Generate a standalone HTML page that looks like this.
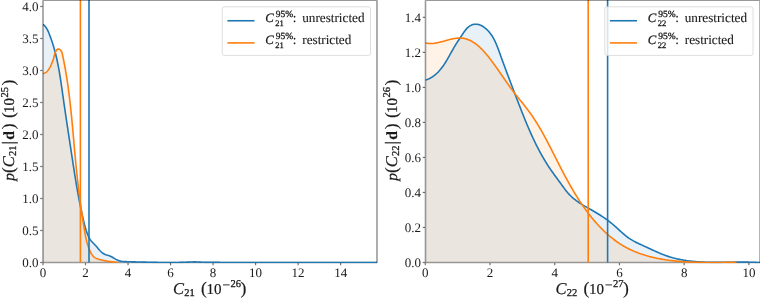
<!DOCTYPE html>
<html><head><meta charset="utf-8"><style>
html,body{margin:0;padding:0;background:#fff;width:760px;height:298px;overflow:hidden}
svg{display:block;text-rendering:geometricPrecision;will-change:transform;}
text{font-family:"Liberation Serif",serif;fill:#1a1a1a;stroke:#1a1a1a;stroke-width:0.0px}
</style></head><body>
<svg width="760" height="298" viewBox="0 0 760 298">
<path d="M42.65,262.5 H377.35" stroke="#000" stroke-opacity="0.4" stroke-width="1.6" fill="none"/>
<clipPath id="clipL"><rect x="43.0" y="0" width="334.0" height="263.3"/></clipPath>
<g clip-path="url(#clipL)">
<path d="M43.02,24.27 L43.81,24.97 L44.55,25.71 L45.23,26.49 L45.85,27.31 L46.43,28.15 L46.96,29.03 L47.46,29.93 L47.92,30.85 L48.36,31.79 L48.77,32.74 L49.16,33.70 L49.53,34.68 L49.89,35.66 L50.25,36.64 L50.61,37.62 L50.96,38.60 L51.30,39.58 L51.64,40.56 L51.98,41.55 L52.31,42.53 L52.63,43.52 L52.95,44.51 L53.26,45.50 L53.56,46.49 L53.85,47.48 L54.14,48.48 L54.43,49.47 L54.70,50.47 L54.97,51.47 L55.24,52.47 L55.49,53.47 L55.75,54.48 L55.99,55.48 L56.23,56.49 L56.47,57.50 L56.70,58.51 L56.93,59.52 L57.15,60.53 L57.36,61.54 L57.57,62.55 L57.78,63.57 L57.98,64.58 L58.18,65.60 L58.38,66.62 L58.57,67.64 L58.76,68.65 L58.94,69.67 L59.12,70.70 L59.30,71.72 L59.47,72.74 L59.64,73.76 L59.81,74.79 L59.98,75.81 L60.14,76.83 L60.30,77.86 L60.46,78.89 L60.62,79.91 L60.77,80.94 L60.93,81.97 L61.08,82.99 L61.23,84.02 L61.38,85.05 L61.53,86.08 L61.68,87.10 L61.82,88.13 L61.97,89.16 L62.12,90.19 L62.26,91.22 L62.41,92.25 L62.55,93.27 L62.70,94.30 L62.84,95.33 L62.99,96.36 L63.13,97.39 L63.28,98.42 L63.43,99.44 L63.58,100.47 L63.72,101.50 L63.87,102.52 L64.02,103.55 L64.17,104.58 L64.32,105.61 L64.47,106.63 L64.62,107.66 L64.77,108.69 L64.92,109.71 L65.07,110.74 L65.22,111.76 L65.37,112.79 L65.52,113.82 L65.67,114.84 L65.83,115.87 L65.98,116.89 L66.13,117.92 L66.28,118.95 L66.44,119.97 L66.59,121.00 L66.74,122.02 L66.90,123.05 L67.05,124.07 L67.20,125.10 L67.36,126.12 L67.51,127.15 L67.67,128.17 L67.82,129.20 L67.98,130.22 L68.13,131.25 L68.29,132.27 L68.44,133.30 L68.60,134.32 L68.75,135.35 L68.91,136.37 L69.06,137.40 L69.22,138.42 L69.37,139.45 L69.53,140.47 L69.68,141.49 L69.84,142.52 L70.00,143.54 L70.15,144.57 L70.31,145.59 L70.46,146.62 L70.62,147.64 L70.77,148.67 L70.93,149.69 L71.09,150.72 L71.24,151.74 L71.40,152.77 L71.55,153.79 L71.71,154.82 L71.86,155.84 L72.02,156.87 L72.18,157.89 L72.33,158.92 L72.49,159.94 L72.64,160.97 L72.80,161.99 L72.96,163.02 L73.11,164.04 L73.27,165.07 L73.43,166.09 L73.59,167.12 L73.74,168.14 L73.90,169.17 L74.06,170.19 L74.22,171.22 L74.38,172.24 L74.54,173.27 L74.71,174.29 L74.87,175.32 L75.03,176.34 L75.20,177.37 L75.36,178.39 L75.53,179.41 L75.70,180.44 L75.87,181.46 L76.04,182.49 L76.21,183.51 L76.38,184.53 L76.55,185.56 L76.73,186.58 L76.90,187.60 L77.08,188.62 L77.26,189.65 L77.44,190.67 L77.62,191.69 L77.80,192.71 L77.98,193.73 L78.17,194.75 L78.36,195.77 L78.55,196.79 L78.74,197.81 L78.93,198.83 L79.12,199.85 L79.32,200.87 L79.52,201.89 L79.72,202.91 L79.92,203.93 L80.12,204.95 L80.33,205.96 L80.54,206.98 L80.75,207.99 L80.96,209.01 L81.17,210.02 L81.39,211.04 L81.61,212.05 L81.83,213.07 L82.05,214.08 L82.28,215.09 L82.51,216.10 L82.74,217.11 L82.97,218.12 L83.20,219.13 L83.44,220.14 L83.68,221.14 L83.93,222.15 L84.17,223.16 L84.42,224.16 L84.68,225.16 L84.94,226.16 L85.21,227.16 L85.49,228.16 L85.78,229.15 L86.08,230.14 L86.40,231.13 L86.73,232.12 L87.08,233.10 L87.45,234.07 L87.84,235.05 L88.24,236.01 L88.68,236.97 L89.15,237.90 L89.67,238.79 L90.25,239.64 L90.86,240.46 L91.51,241.25 L92.20,242.01 L92.90,242.77 L93.62,243.51 L94.34,244.26 L95.06,245.00 L95.78,245.76 L96.49,246.53 L97.17,247.33 L97.84,248.14 L98.51,248.95 L99.18,249.75 L99.87,250.53 L100.57,251.28 L101.31,252.00 L102.10,252.66 L102.93,253.26 L103.80,253.80 L104.72,254.27 L105.67,254.67 L106.65,255.00 L107.65,255.29 L108.64,255.59 L109.62,255.93 L110.56,256.34 L111.48,256.79 L112.39,257.28 L113.29,257.80 L114.19,258.32 L115.09,258.85 L116.00,259.37 L116.92,259.85 L117.87,260.27 L118.83,260.63 L119.81,260.92 L120.81,261.15 L121.83,261.32 L122.85,261.45 L123.89,261.54 L124.93,261.61 L125.98,261.65 L127.02,261.69 L128.07,261.72 L129.11,261.75 L130.15,261.77 L131.19,261.80 L132.23,261.83 L133.27,261.85 L134.31,261.88 L135.34,261.91 L136.38,261.93 L137.41,261.96 L138.44,261.98 L139.48,262.01 L140.51,262.03 L141.55,262.06 L142.58,262.08 L143.62,262.11 L144.65,262.13 L145.69,262.16 L146.72,262.18 L147.76,262.21 L148.80,262.23 L149.83,262.26 L150.87,262.28 L151.91,262.30 L152.94,262.33 L153.98,262.35 L155.02,262.37 L156.06,262.39 L157.09,262.41 L158.13,262.43 L159.17,262.44 L160.21,262.46 L161.25,262.47 L162.28,262.49 L163.32,262.50 L164.36,262.51 L165.40,262.52 L166.44,262.52 L167.48,262.53 L168.51,262.53 L169.55,262.53 L170.59,262.53 L171.63,262.53 L172.67,262.52 L173.70,262.51 L174.74,262.50 L175.78,262.49 L176.82,262.48 L177.86,262.46 L178.89,262.44 L179.93,262.42 L180.97,262.39 L182.00,262.36 L183.04,262.33 L184.08,262.30 L185.11,262.26 L186.15,262.22 L187.18,262.17 L188.22,262.13 L189.25,262.08 L190.29,262.02 L191.32,261.97 L192.36,261.93 L193.39,261.90 L194.43,261.89 L195.46,261.90 L196.50,261.94 L197.53,261.99 L198.57,262.05 L199.60,262.11 L200.64,262.17 L201.68,262.23 L202.71,262.27 L203.75,262.30 L204.79,262.33 L205.82,262.35 L206.86,262.36 L207.90,262.37 L208.93,262.38 L209.97,262.38 L211.01,262.39 L212.05,262.39 L213.08,262.40 L214.12,262.40 L215.16,262.41 L216.19,262.41 L217.23,262.42 L218.27,262.42 L219.31,262.42 L220.34,262.43 L221.38,262.43 L222.42,262.44 L223.46,262.44 L224.49,262.44 L225.53,262.45 L226.57,262.45 L227.60,262.45 L228.64,262.46 L229.68,262.46 L230.72,262.46 L231.75,262.46 L232.79,262.47 L233.83,262.47 L234.86,262.47 L235.90,262.47 L236.94,262.48 L237.98,262.48 L239.01,262.48 L240.05,262.48 L241.09,262.49 L242.12,262.49 L243.16,262.49 L244.20,262.49 L245.24,262.49 L246.27,262.49 L247.31,262.50 L248.35,262.50 L249.39,262.50 L250.42,262.50 L251.46,262.50 L252.50,262.50 L253.53,262.50 L254.57,262.50 L255.61,262.50 L256.65,262.51 L257.68,262.51 L258.72,262.51 L259.76,262.51 L260.79,262.51 L261.83,262.51 L262.87,262.51 L263.91,262.51 L264.94,262.51 L265.98,262.51 L267.02,262.51 L268.06,262.51 L269.09,262.51 L270.13,262.51 L271.17,262.51 L272.20,262.51 L273.24,262.51 L274.28,262.51 L275.32,262.51 L276.35,262.51 L277.39,262.51 L278.43,262.51 L279.46,262.51 L280.50,262.51 L281.54,262.51 L282.58,262.51 L283.61,262.51 L284.65,262.51 L285.69,262.51 L286.73,262.51 L287.76,262.50 L288.80,262.50 L289.84,262.50 L290.87,262.50 L291.91,262.50 L292.95,262.50 L293.99,262.50 L295.02,262.50 L296.06,262.50 L297.10,262.50 L298.13,262.50 L299.17,262.50 L300.21,262.50 L301.25,262.50 L302.28,262.49 L303.32,262.49 L304.36,262.49 L305.39,262.49 L306.43,262.49 L307.47,262.49 L308.51,262.49 L309.54,262.49 L310.58,262.49 L311.62,262.49 L312.66,262.49 L313.69,262.49 L314.73,262.48 L315.77,262.48 L316.80,262.48 L317.84,262.48 L318.88,262.48 L319.92,262.48 L320.95,262.48 L321.99,262.48 L323.03,262.48 L324.06,262.48 L325.10,262.48 L326.14,262.48 L327.18,262.48 L328.21,262.48 L329.25,262.47 L330.29,262.47 L331.33,262.47 L332.36,262.47 L333.40,262.47 L334.44,262.47 L335.47,262.47 L336.51,262.47 L337.55,262.47 L338.59,262.47 L339.62,262.47 L340.66,262.47 L341.70,262.47 L342.73,262.47 L343.77,262.47 L344.81,262.47 L345.85,262.47 L346.88,262.47 L347.92,262.47 L348.96,262.47 L350.00,262.47 L351.03,262.47 L352.07,262.47 L353.11,262.47 L354.14,262.47 L355.18,262.47 L356.22,262.47 L357.26,262.47 L358.29,262.47 L359.33,262.47 L360.37,262.48 L361.40,262.48 L362.44,262.48 L363.48,262.48 L364.52,262.48 L365.55,262.48 L366.59,262.48 L367.63,262.48 L368.67,262.48 L369.70,262.49 L370.74,262.49 L371.78,262.49 L372.81,262.49 L373.85,262.49 L374.89,262.49 L375.93,262.50 L376.96,262.50 L378.00,262.50 L378.00,262.50 L43.02,262.50 Z" fill="#1f77b4" fill-opacity="0.1"/>
<path d="M43.00,73.62 L43.56,73.48 L44.09,73.31 L44.60,73.11 L45.08,72.88 L45.55,72.62 L45.99,72.33 L46.40,72.01 L46.80,71.67 L47.18,71.31 L47.54,70.92 L47.89,70.52 L48.22,70.10 L48.53,69.66 L48.83,69.21 L49.12,68.75 L49.40,68.28 L49.67,67.80 L49.92,67.31 L50.17,66.82 L50.41,66.32 L50.65,65.82 L50.88,65.32 L51.10,64.83 L51.33,64.33 L51.54,63.84 L51.76,63.35 L51.97,62.86 L52.17,62.37 L52.37,61.89 L52.56,61.40 L52.75,60.91 L52.93,60.41 L53.10,59.91 L53.26,59.41 L53.41,58.91 L53.56,58.40 L53.70,57.88 L53.83,57.36 L53.97,56.83 L54.11,56.30 L54.25,55.76 L54.39,55.22 L54.54,54.67 L54.71,54.12 L54.89,53.56 L55.08,52.99 L55.29,52.43 L55.51,51.86 L55.76,51.32 L56.03,50.80 L56.33,50.33 L56.65,49.91 L56.99,49.56 L57.36,49.29 L57.76,49.11 L58.19,49.04 L58.65,49.08 L59.11,49.22 L59.55,49.43 L59.95,49.68 L60.31,49.97 L60.64,50.29 L60.93,50.65 L61.19,51.04 L61.43,51.46 L61.64,51.91 L61.82,52.37 L61.99,52.86 L62.15,53.36 L62.29,53.88 L62.42,54.40 L62.54,54.94 L62.66,55.47 L62.77,56.01 L62.88,56.55 L63.00,57.09 L63.11,57.63 L63.22,58.17 L63.33,58.71 L63.44,59.25 L63.55,59.78 L63.66,60.32 L63.76,60.86 L63.87,61.40 L63.97,61.94 L64.08,62.48 L64.18,63.01 L64.29,63.55 L64.39,64.09 L64.49,64.63 L64.59,65.17 L64.69,65.70 L64.79,66.24 L64.89,66.78 L64.99,67.32 L65.08,67.85 L65.18,68.39 L65.28,68.93 L65.37,69.47 L65.46,70.00 L65.56,70.54 L65.65,71.08 L65.74,71.62 L65.84,72.15 L65.93,72.69 L66.02,73.23 L66.11,73.76 L66.19,74.30 L66.28,74.84 L66.37,75.37 L66.46,75.91 L66.54,76.45 L66.63,76.98 L66.71,77.52 L66.80,78.06 L66.88,78.59 L66.96,79.13 L67.05,79.67 L67.13,80.20 L67.21,80.74 L67.29,81.27 L67.37,81.81 L67.45,82.35 L67.53,82.88 L67.61,83.42 L67.68,83.96 L67.76,84.49 L67.84,85.03 L67.91,85.56 L67.99,86.10 L68.06,86.63 L68.14,87.17 L68.21,87.71 L68.29,88.24 L68.36,88.78 L68.43,89.31 L68.50,89.85 L68.57,90.38 L68.64,90.92 L68.71,91.45 L68.78,91.99 L68.85,92.53 L68.92,93.06 L68.99,93.60 L69.06,94.13 L69.13,94.67 L69.19,95.20 L69.26,95.74 L69.33,96.27 L69.39,96.81 L69.46,97.34 L69.52,97.88 L69.58,98.41 L69.65,98.95 L69.71,99.48 L69.78,100.02 L69.84,100.55 L69.90,101.09 L69.96,101.62 L70.02,102.16 L70.08,102.69 L70.14,103.23 L70.20,103.76 L70.26,104.30 L70.32,104.83 L70.38,105.36 L70.44,105.90 L70.50,106.43 L70.56,106.97 L70.62,107.50 L70.67,108.04 L70.73,108.57 L70.79,109.11 L70.84,109.64 L70.90,110.18 L70.96,110.71 L71.01,111.24 L71.07,111.78 L71.12,112.31 L71.18,112.85 L71.23,113.38 L71.29,113.92 L71.34,114.45 L71.39,114.98 L71.45,115.52 L71.50,116.05 L71.55,116.59 L71.60,117.12 L71.66,117.66 L71.71,118.19 L71.76,118.72 L71.81,119.26 L71.86,119.79 L71.92,120.33 L71.97,120.86 L72.02,121.40 L72.07,121.93 L72.12,122.46 L72.17,123.00 L72.22,123.53 L72.27,124.07 L72.32,124.60 L72.37,125.13 L72.42,125.67 L72.47,126.20 L72.52,126.74 L72.56,127.27 L72.61,127.80 L72.66,128.34 L72.71,128.87 L72.76,129.41 L72.81,129.94 L72.85,130.48 L72.90,131.01 L72.95,131.54 L73.00,132.08 L73.05,132.61 L73.09,133.15 L73.14,133.68 L73.19,134.21 L73.24,134.75 L73.28,135.28 L73.33,135.82 L73.38,136.35 L73.43,136.88 L73.47,137.42 L73.52,137.95 L73.57,138.49 L73.62,139.02 L73.66,139.56 L73.71,140.09 L73.76,140.62 L73.80,141.16 L73.85,141.69 L73.90,142.23 L73.94,142.76 L73.99,143.29 L74.04,143.83 L74.09,144.36 L74.13,144.90 L74.18,145.43 L74.23,145.97 L74.28,146.50 L74.32,147.04 L74.37,147.57 L74.42,148.10 L74.47,148.64 L74.51,149.17 L74.56,149.71 L74.61,150.24 L74.66,150.78 L74.70,151.31 L74.75,151.85 L74.80,152.38 L74.85,152.91 L74.90,153.45 L74.95,153.98 L74.99,154.52 L75.04,155.05 L75.09,155.59 L75.14,156.12 L75.19,156.66 L75.24,157.19 L75.29,157.73 L75.34,158.26 L75.39,158.80 L75.44,159.33 L75.49,159.87 L75.54,160.40 L75.59,160.94 L75.64,161.47 L75.69,162.01 L75.74,162.54 L75.79,163.08 L75.85,163.61 L75.90,164.15 L75.95,164.68 L76.00,165.22 L76.05,165.75 L76.11,166.29 L76.16,166.82 L76.21,167.36 L76.27,167.89 L76.32,168.43 L76.38,168.96 L76.43,169.50 L76.48,170.04 L76.54,170.57 L76.59,171.11 L76.65,171.64 L76.71,172.18 L76.76,172.71 L76.82,173.25 L76.87,173.79 L76.93,174.32 L76.99,174.86 L77.05,175.39 L77.10,175.93 L77.16,176.46 L77.22,177.00 L77.28,177.54 L77.34,178.07 L77.40,178.61 L77.46,179.14 L77.52,179.68 L77.58,180.22 L77.64,180.75 L77.70,181.29 L77.76,181.82 L77.82,182.36 L77.88,182.90 L77.94,183.43 L78.00,183.97 L78.07,184.50 L78.13,185.04 L78.19,185.58 L78.26,186.11 L78.32,186.65 L78.38,187.18 L78.45,187.72 L78.51,188.26 L78.58,188.79 L78.64,189.33 L78.71,189.86 L78.77,190.40 L78.84,190.94 L78.90,191.47 L78.97,192.01 L79.04,192.54 L79.10,193.08 L79.17,193.61 L79.24,194.15 L79.31,194.69 L79.37,195.22 L79.44,195.76 L79.51,196.29 L79.58,196.83 L79.65,197.36 L79.72,197.90 L79.79,198.43 L79.86,198.97 L79.93,199.51 L80.00,200.04 L80.07,200.58 L80.14,201.11 L80.21,201.65 L80.29,202.18 L80.36,202.72 L80.43,203.25 L80.50,203.79 L80.58,204.32 L80.65,204.86 L80.72,205.39 L80.80,205.92 L80.87,206.46 L80.95,206.99 L81.02,207.53 L81.10,208.06 L81.17,208.60 L81.25,209.13 L81.32,209.66 L81.40,210.20 L81.47,210.73 L81.55,211.27 L81.63,211.80 L81.71,212.33 L81.78,212.87 L81.86,213.40 L81.94,213.93 L82.02,214.47 L82.10,215.00 L82.18,215.53 L82.26,216.07 L82.33,216.60 L82.41,217.13 L82.50,217.67 L82.58,218.20 L82.66,218.73 L82.74,219.26 L82.82,219.80 L82.90,220.33 L82.98,220.86 L83.07,221.39 L83.15,221.92 L83.23,222.46 L83.31,222.99 L83.40,223.52 L83.48,224.05 L83.57,224.58 L83.65,225.11 L83.73,225.64 L83.82,226.17 L83.90,226.70 L83.99,227.24 L84.08,227.77 L84.16,228.30 L84.25,228.83 L84.33,229.36 L84.42,229.89 L84.51,230.42 L84.60,230.95 L84.69,231.47 L84.78,232.00 L84.87,232.53 L84.96,233.06 L85.05,233.59 L85.15,234.12 L85.25,234.64 L85.34,235.17 L85.45,235.70 L85.55,236.22 L85.65,236.75 L85.76,237.27 L85.87,237.79 L85.98,238.32 L86.10,238.84 L86.22,239.36 L86.34,239.88 L86.46,240.40 L86.59,240.92 L86.72,241.44 L86.86,241.96 L87.00,242.47 L87.14,242.99 L87.29,243.50 L87.44,244.02 L87.59,244.53 L87.75,245.04 L87.92,245.55 L88.09,246.06 L88.26,246.57 L88.44,247.07 L88.63,247.58 L88.82,248.08 L89.01,248.58 L89.21,249.09 L89.42,249.59 L89.63,250.08 L89.85,250.58 L90.08,251.08 L90.31,251.57 L90.55,252.06 L90.79,252.55 L91.05,253.04 L91.31,253.52 L91.58,253.99 L91.87,254.45 L92.17,254.90 L92.48,255.33 L92.81,255.75 L93.15,256.15 L93.52,256.53 L93.90,256.90 L94.30,257.23 L94.72,257.55 L95.16,257.84 L95.62,258.10 L96.10,258.33 L96.60,258.55 L97.11,258.75 L97.64,258.93 L98.16,259.09 L98.70,259.25 L99.23,259.39 L99.76,259.54 L100.29,259.67 L100.82,259.81 L101.35,259.94 L101.87,260.06 L102.39,260.18 L102.91,260.30 L103.43,260.42 L103.95,260.53 L104.47,260.63 L104.99,260.74 L105.52,260.84 L106.04,260.93 L106.56,261.03 L107.08,261.12 L107.61,261.20 L108.14,261.29 L108.67,261.37 L109.21,261.45 L109.74,261.52 L110.28,261.59 L110.82,261.66 L111.36,261.73 L111.90,261.79 L112.44,261.85 L112.98,261.91 L113.52,261.96 L114.06,262.01 L114.60,262.06 L115.14,262.11 L115.67,262.15 L116.21,262.19 L116.74,262.23 L117.27,262.27 L117.80,262.30 L117.80,262.50 L43.00,262.50 Z" fill="#ff7f0e" fill-opacity="0.1"/>
<path d="M43.02,24.27 L43.81,24.97 L44.55,25.71 L45.23,26.49 L45.85,27.31 L46.43,28.15 L46.96,29.03 L47.46,29.93 L47.92,30.85 L48.36,31.79 L48.77,32.74 L49.16,33.70 L49.53,34.68 L49.89,35.66 L50.25,36.64 L50.61,37.62 L50.96,38.60 L51.30,39.58 L51.64,40.56 L51.98,41.55 L52.31,42.53 L52.63,43.52 L52.95,44.51 L53.26,45.50 L53.56,46.49 L53.85,47.48 L54.14,48.48 L54.43,49.47 L54.70,50.47 L54.97,51.47 L55.24,52.47 L55.49,53.47 L55.75,54.48 L55.99,55.48 L56.23,56.49 L56.47,57.50 L56.70,58.51 L56.93,59.52 L57.15,60.53 L57.36,61.54 L57.57,62.55 L57.78,63.57 L57.98,64.58 L58.18,65.60 L58.38,66.62 L58.57,67.64 L58.76,68.65 L58.94,69.67 L59.12,70.70 L59.30,71.72 L59.47,72.74 L59.64,73.76 L59.81,74.79 L59.98,75.81 L60.14,76.83 L60.30,77.86 L60.46,78.89 L60.62,79.91 L60.77,80.94 L60.93,81.97 L61.08,82.99 L61.23,84.02 L61.38,85.05 L61.53,86.08 L61.68,87.10 L61.82,88.13 L61.97,89.16 L62.12,90.19 L62.26,91.22 L62.41,92.25 L62.55,93.27 L62.70,94.30 L62.84,95.33 L62.99,96.36 L63.13,97.39 L63.28,98.42 L63.43,99.44 L63.58,100.47 L63.72,101.50 L63.87,102.52 L64.02,103.55 L64.17,104.58 L64.32,105.61 L64.47,106.63 L64.62,107.66 L64.77,108.69 L64.92,109.71 L65.07,110.74 L65.22,111.76 L65.37,112.79 L65.52,113.82 L65.67,114.84 L65.83,115.87 L65.98,116.89 L66.13,117.92 L66.28,118.95 L66.44,119.97 L66.59,121.00 L66.74,122.02 L66.90,123.05 L67.05,124.07 L67.20,125.10 L67.36,126.12 L67.51,127.15 L67.67,128.17 L67.82,129.20 L67.98,130.22 L68.13,131.25 L68.29,132.27 L68.44,133.30 L68.60,134.32 L68.75,135.35 L68.91,136.37 L69.06,137.40 L69.22,138.42 L69.37,139.45 L69.53,140.47 L69.68,141.49 L69.84,142.52 L70.00,143.54 L70.15,144.57 L70.31,145.59 L70.46,146.62 L70.62,147.64 L70.77,148.67 L70.93,149.69 L71.09,150.72 L71.24,151.74 L71.40,152.77 L71.55,153.79 L71.71,154.82 L71.86,155.84 L72.02,156.87 L72.18,157.89 L72.33,158.92 L72.49,159.94 L72.64,160.97 L72.80,161.99 L72.96,163.02 L73.11,164.04 L73.27,165.07 L73.43,166.09 L73.59,167.12 L73.74,168.14 L73.90,169.17 L74.06,170.19 L74.22,171.22 L74.38,172.24 L74.54,173.27 L74.71,174.29 L74.87,175.32 L75.03,176.34 L75.20,177.37 L75.36,178.39 L75.53,179.41 L75.70,180.44 L75.87,181.46 L76.04,182.49 L76.21,183.51 L76.38,184.53 L76.55,185.56 L76.73,186.58 L76.90,187.60 L77.08,188.62 L77.26,189.65 L77.44,190.67 L77.62,191.69 L77.80,192.71 L77.98,193.73 L78.17,194.75 L78.36,195.77 L78.55,196.79 L78.74,197.81 L78.93,198.83 L79.12,199.85 L79.32,200.87 L79.52,201.89 L79.72,202.91 L79.92,203.93 L80.12,204.95 L80.33,205.96 L80.54,206.98 L80.75,207.99 L80.96,209.01 L81.17,210.02 L81.39,211.04 L81.61,212.05 L81.83,213.07 L82.05,214.08 L82.28,215.09 L82.51,216.10 L82.74,217.11 L82.97,218.12 L83.20,219.13 L83.44,220.14 L83.68,221.14 L83.93,222.15 L84.17,223.16 L84.42,224.16 L84.68,225.16 L84.94,226.16 L85.21,227.16 L85.49,228.16 L85.78,229.15 L86.08,230.14 L86.40,231.13 L86.73,232.12 L87.08,233.10 L87.45,234.07 L87.84,235.05 L88.24,236.01 L88.68,236.97 L89.15,237.90 L89.67,238.79 L90.25,239.64 L90.86,240.46 L91.51,241.25 L92.20,242.01 L92.90,242.77 L93.62,243.51 L94.34,244.26 L95.06,245.00 L95.78,245.76 L96.49,246.53 L97.17,247.33 L97.84,248.14 L98.51,248.95 L99.18,249.75 L99.87,250.53 L100.57,251.28 L101.31,252.00 L102.10,252.66 L102.93,253.26 L103.80,253.80 L104.72,254.27 L105.67,254.67 L106.65,255.00 L107.65,255.29 L108.64,255.59 L109.62,255.93 L110.56,256.34 L111.48,256.79 L112.39,257.28 L113.29,257.80 L114.19,258.32 L115.09,258.85 L116.00,259.37 L116.92,259.85 L117.87,260.27 L118.83,260.63 L119.81,260.92 L120.81,261.15 L121.83,261.32 L122.85,261.45 L123.89,261.54 L124.93,261.61 L125.98,261.65 L127.02,261.69 L128.07,261.72 L129.11,261.75 L130.15,261.77 L131.19,261.80 L132.23,261.83 L133.27,261.85 L134.31,261.88 L135.34,261.91 L136.38,261.93 L137.41,261.96 L138.44,261.98 L139.48,262.01 L140.51,262.03 L141.55,262.06 L142.58,262.08 L143.62,262.11 L144.65,262.13 L145.69,262.16 L146.72,262.18 L147.76,262.21 L148.80,262.23 L149.83,262.26 L150.87,262.28 L151.91,262.30 L152.94,262.33 L153.98,262.35 L155.02,262.37 L156.06,262.39 L157.09,262.41 L158.13,262.43 L159.17,262.44 L160.21,262.46 L161.25,262.47 L162.28,262.49 L163.32,262.50 L164.36,262.51 L165.40,262.52 L166.44,262.52 L167.48,262.53 L168.51,262.53 L169.55,262.53 L170.59,262.53 L171.63,262.53 L172.67,262.52 L173.70,262.51 L174.74,262.50 L175.78,262.49 L176.82,262.48 L177.86,262.46 L178.89,262.44 L179.93,262.42 L180.97,262.39 L182.00,262.36 L183.04,262.33 L184.08,262.30 L185.11,262.26 L186.15,262.22 L187.18,262.17 L188.22,262.13 L189.25,262.08 L190.29,262.02 L191.32,261.97 L192.36,261.93 L193.39,261.90 L194.43,261.89 L195.46,261.90 L196.50,261.94 L197.53,261.99 L198.57,262.05 L199.60,262.11 L200.64,262.17 L201.68,262.23 L202.71,262.27 L203.75,262.30 L204.79,262.33 L205.82,262.35 L206.86,262.36 L207.90,262.37 L208.93,262.38 L209.97,262.38 L211.01,262.39 L212.05,262.39 L213.08,262.40 L214.12,262.40 L215.16,262.41 L216.19,262.41 L217.23,262.42 L218.27,262.42 L219.31,262.42 L220.34,262.43 L221.38,262.43 L222.42,262.44 L223.46,262.44 L224.49,262.44 L225.53,262.45 L226.57,262.45 L227.60,262.45 L228.64,262.46 L229.68,262.46 L230.72,262.46 L231.75,262.46 L232.79,262.47 L233.83,262.47 L234.86,262.47 L235.90,262.47 L236.94,262.48 L237.98,262.48 L239.01,262.48 L240.05,262.48 L241.09,262.49 L242.12,262.49 L243.16,262.49 L244.20,262.49 L245.24,262.49 L246.27,262.49 L247.31,262.50 L248.35,262.50 L249.39,262.50 L250.42,262.50 L251.46,262.50 L252.50,262.50 L253.53,262.50 L254.57,262.50 L255.61,262.50 L256.65,262.51 L257.68,262.51 L258.72,262.51 L259.76,262.51 L260.79,262.51 L261.83,262.51 L262.87,262.51 L263.91,262.51 L264.94,262.51 L265.98,262.51 L267.02,262.51 L268.06,262.51 L269.09,262.51 L270.13,262.51 L271.17,262.51 L272.20,262.51 L273.24,262.51 L274.28,262.51 L275.32,262.51 L276.35,262.51 L277.39,262.51 L278.43,262.51 L279.46,262.51 L280.50,262.51 L281.54,262.51 L282.58,262.51 L283.61,262.51 L284.65,262.51 L285.69,262.51 L286.73,262.51 L287.76,262.50 L288.80,262.50 L289.84,262.50 L290.87,262.50 L291.91,262.50 L292.95,262.50 L293.99,262.50 L295.02,262.50 L296.06,262.50 L297.10,262.50 L298.13,262.50 L299.17,262.50 L300.21,262.50 L301.25,262.50 L302.28,262.49 L303.32,262.49 L304.36,262.49 L305.39,262.49 L306.43,262.49 L307.47,262.49 L308.51,262.49 L309.54,262.49 L310.58,262.49 L311.62,262.49 L312.66,262.49 L313.69,262.49 L314.73,262.48 L315.77,262.48 L316.80,262.48 L317.84,262.48 L318.88,262.48 L319.92,262.48 L320.95,262.48 L321.99,262.48 L323.03,262.48 L324.06,262.48 L325.10,262.48 L326.14,262.48 L327.18,262.48 L328.21,262.48 L329.25,262.47 L330.29,262.47 L331.33,262.47 L332.36,262.47 L333.40,262.47 L334.44,262.47 L335.47,262.47 L336.51,262.47 L337.55,262.47 L338.59,262.47 L339.62,262.47 L340.66,262.47 L341.70,262.47 L342.73,262.47 L343.77,262.47 L344.81,262.47 L345.85,262.47 L346.88,262.47 L347.92,262.47 L348.96,262.47 L350.00,262.47 L351.03,262.47 L352.07,262.47 L353.11,262.47 L354.14,262.47 L355.18,262.47 L356.22,262.47 L357.26,262.47 L358.29,262.47 L359.33,262.47 L360.37,262.48 L361.40,262.48 L362.44,262.48 L363.48,262.48 L364.52,262.48 L365.55,262.48 L366.59,262.48 L367.63,262.48 L368.67,262.48 L369.70,262.49 L370.74,262.49 L371.78,262.49 L372.81,262.49 L373.85,262.49 L374.89,262.49 L375.93,262.50 L376.96,262.50 L378.00,262.50" fill="none" stroke="#1f77b4" stroke-width="1.6" stroke-linejoin="round"/>
<path d="M43.00,73.62 L43.56,73.48 L44.09,73.31 L44.60,73.11 L45.08,72.88 L45.55,72.62 L45.99,72.33 L46.40,72.01 L46.80,71.67 L47.18,71.31 L47.54,70.92 L47.89,70.52 L48.22,70.10 L48.53,69.66 L48.83,69.21 L49.12,68.75 L49.40,68.28 L49.67,67.80 L49.92,67.31 L50.17,66.82 L50.41,66.32 L50.65,65.82 L50.88,65.32 L51.10,64.83 L51.33,64.33 L51.54,63.84 L51.76,63.35 L51.97,62.86 L52.17,62.37 L52.37,61.89 L52.56,61.40 L52.75,60.91 L52.93,60.41 L53.10,59.91 L53.26,59.41 L53.41,58.91 L53.56,58.40 L53.70,57.88 L53.83,57.36 L53.97,56.83 L54.11,56.30 L54.25,55.76 L54.39,55.22 L54.54,54.67 L54.71,54.12 L54.89,53.56 L55.08,52.99 L55.29,52.43 L55.51,51.86 L55.76,51.32 L56.03,50.80 L56.33,50.33 L56.65,49.91 L56.99,49.56 L57.36,49.29 L57.76,49.11 L58.19,49.04 L58.65,49.08 L59.11,49.22 L59.55,49.43 L59.95,49.68 L60.31,49.97 L60.64,50.29 L60.93,50.65 L61.19,51.04 L61.43,51.46 L61.64,51.91 L61.82,52.37 L61.99,52.86 L62.15,53.36 L62.29,53.88 L62.42,54.40 L62.54,54.94 L62.66,55.47 L62.77,56.01 L62.88,56.55 L63.00,57.09 L63.11,57.63 L63.22,58.17 L63.33,58.71 L63.44,59.25 L63.55,59.78 L63.66,60.32 L63.76,60.86 L63.87,61.40 L63.97,61.94 L64.08,62.48 L64.18,63.01 L64.29,63.55 L64.39,64.09 L64.49,64.63 L64.59,65.17 L64.69,65.70 L64.79,66.24 L64.89,66.78 L64.99,67.32 L65.08,67.85 L65.18,68.39 L65.28,68.93 L65.37,69.47 L65.46,70.00 L65.56,70.54 L65.65,71.08 L65.74,71.62 L65.84,72.15 L65.93,72.69 L66.02,73.23 L66.11,73.76 L66.19,74.30 L66.28,74.84 L66.37,75.37 L66.46,75.91 L66.54,76.45 L66.63,76.98 L66.71,77.52 L66.80,78.06 L66.88,78.59 L66.96,79.13 L67.05,79.67 L67.13,80.20 L67.21,80.74 L67.29,81.27 L67.37,81.81 L67.45,82.35 L67.53,82.88 L67.61,83.42 L67.68,83.96 L67.76,84.49 L67.84,85.03 L67.91,85.56 L67.99,86.10 L68.06,86.63 L68.14,87.17 L68.21,87.71 L68.29,88.24 L68.36,88.78 L68.43,89.31 L68.50,89.85 L68.57,90.38 L68.64,90.92 L68.71,91.45 L68.78,91.99 L68.85,92.53 L68.92,93.06 L68.99,93.60 L69.06,94.13 L69.13,94.67 L69.19,95.20 L69.26,95.74 L69.33,96.27 L69.39,96.81 L69.46,97.34 L69.52,97.88 L69.58,98.41 L69.65,98.95 L69.71,99.48 L69.78,100.02 L69.84,100.55 L69.90,101.09 L69.96,101.62 L70.02,102.16 L70.08,102.69 L70.14,103.23 L70.20,103.76 L70.26,104.30 L70.32,104.83 L70.38,105.36 L70.44,105.90 L70.50,106.43 L70.56,106.97 L70.62,107.50 L70.67,108.04 L70.73,108.57 L70.79,109.11 L70.84,109.64 L70.90,110.18 L70.96,110.71 L71.01,111.24 L71.07,111.78 L71.12,112.31 L71.18,112.85 L71.23,113.38 L71.29,113.92 L71.34,114.45 L71.39,114.98 L71.45,115.52 L71.50,116.05 L71.55,116.59 L71.60,117.12 L71.66,117.66 L71.71,118.19 L71.76,118.72 L71.81,119.26 L71.86,119.79 L71.92,120.33 L71.97,120.86 L72.02,121.40 L72.07,121.93 L72.12,122.46 L72.17,123.00 L72.22,123.53 L72.27,124.07 L72.32,124.60 L72.37,125.13 L72.42,125.67 L72.47,126.20 L72.52,126.74 L72.56,127.27 L72.61,127.80 L72.66,128.34 L72.71,128.87 L72.76,129.41 L72.81,129.94 L72.85,130.48 L72.90,131.01 L72.95,131.54 L73.00,132.08 L73.05,132.61 L73.09,133.15 L73.14,133.68 L73.19,134.21 L73.24,134.75 L73.28,135.28 L73.33,135.82 L73.38,136.35 L73.43,136.88 L73.47,137.42 L73.52,137.95 L73.57,138.49 L73.62,139.02 L73.66,139.56 L73.71,140.09 L73.76,140.62 L73.80,141.16 L73.85,141.69 L73.90,142.23 L73.94,142.76 L73.99,143.29 L74.04,143.83 L74.09,144.36 L74.13,144.90 L74.18,145.43 L74.23,145.97 L74.28,146.50 L74.32,147.04 L74.37,147.57 L74.42,148.10 L74.47,148.64 L74.51,149.17 L74.56,149.71 L74.61,150.24 L74.66,150.78 L74.70,151.31 L74.75,151.85 L74.80,152.38 L74.85,152.91 L74.90,153.45 L74.95,153.98 L74.99,154.52 L75.04,155.05 L75.09,155.59 L75.14,156.12 L75.19,156.66 L75.24,157.19 L75.29,157.73 L75.34,158.26 L75.39,158.80 L75.44,159.33 L75.49,159.87 L75.54,160.40 L75.59,160.94 L75.64,161.47 L75.69,162.01 L75.74,162.54 L75.79,163.08 L75.85,163.61 L75.90,164.15 L75.95,164.68 L76.00,165.22 L76.05,165.75 L76.11,166.29 L76.16,166.82 L76.21,167.36 L76.27,167.89 L76.32,168.43 L76.38,168.96 L76.43,169.50 L76.48,170.04 L76.54,170.57 L76.59,171.11 L76.65,171.64 L76.71,172.18 L76.76,172.71 L76.82,173.25 L76.87,173.79 L76.93,174.32 L76.99,174.86 L77.05,175.39 L77.10,175.93 L77.16,176.46 L77.22,177.00 L77.28,177.54 L77.34,178.07 L77.40,178.61 L77.46,179.14 L77.52,179.68 L77.58,180.22 L77.64,180.75 L77.70,181.29 L77.76,181.82 L77.82,182.36 L77.88,182.90 L77.94,183.43 L78.00,183.97 L78.07,184.50 L78.13,185.04 L78.19,185.58 L78.26,186.11 L78.32,186.65 L78.38,187.18 L78.45,187.72 L78.51,188.26 L78.58,188.79 L78.64,189.33 L78.71,189.86 L78.77,190.40 L78.84,190.94 L78.90,191.47 L78.97,192.01 L79.04,192.54 L79.10,193.08 L79.17,193.61 L79.24,194.15 L79.31,194.69 L79.37,195.22 L79.44,195.76 L79.51,196.29 L79.58,196.83 L79.65,197.36 L79.72,197.90 L79.79,198.43 L79.86,198.97 L79.93,199.51 L80.00,200.04 L80.07,200.58 L80.14,201.11 L80.21,201.65 L80.29,202.18 L80.36,202.72 L80.43,203.25 L80.50,203.79 L80.58,204.32 L80.65,204.86 L80.72,205.39 L80.80,205.92 L80.87,206.46 L80.95,206.99 L81.02,207.53 L81.10,208.06 L81.17,208.60 L81.25,209.13 L81.32,209.66 L81.40,210.20 L81.47,210.73 L81.55,211.27 L81.63,211.80 L81.71,212.33 L81.78,212.87 L81.86,213.40 L81.94,213.93 L82.02,214.47 L82.10,215.00 L82.18,215.53 L82.26,216.07 L82.33,216.60 L82.41,217.13 L82.50,217.67 L82.58,218.20 L82.66,218.73 L82.74,219.26 L82.82,219.80 L82.90,220.33 L82.98,220.86 L83.07,221.39 L83.15,221.92 L83.23,222.46 L83.31,222.99 L83.40,223.52 L83.48,224.05 L83.57,224.58 L83.65,225.11 L83.73,225.64 L83.82,226.17 L83.90,226.70 L83.99,227.24 L84.08,227.77 L84.16,228.30 L84.25,228.83 L84.33,229.36 L84.42,229.89 L84.51,230.42 L84.60,230.95 L84.69,231.47 L84.78,232.00 L84.87,232.53 L84.96,233.06 L85.05,233.59 L85.15,234.12 L85.25,234.64 L85.34,235.17 L85.45,235.70 L85.55,236.22 L85.65,236.75 L85.76,237.27 L85.87,237.79 L85.98,238.32 L86.10,238.84 L86.22,239.36 L86.34,239.88 L86.46,240.40 L86.59,240.92 L86.72,241.44 L86.86,241.96 L87.00,242.47 L87.14,242.99 L87.29,243.50 L87.44,244.02 L87.59,244.53 L87.75,245.04 L87.92,245.55 L88.09,246.06 L88.26,246.57 L88.44,247.07 L88.63,247.58 L88.82,248.08 L89.01,248.58 L89.21,249.09 L89.42,249.59 L89.63,250.08 L89.85,250.58 L90.08,251.08 L90.31,251.57 L90.55,252.06 L90.79,252.55 L91.05,253.04 L91.31,253.52 L91.58,253.99 L91.87,254.45 L92.17,254.90 L92.48,255.33 L92.81,255.75 L93.15,256.15 L93.52,256.53 L93.90,256.90 L94.30,257.23 L94.72,257.55 L95.16,257.84 L95.62,258.10 L96.10,258.33 L96.60,258.55 L97.11,258.75 L97.64,258.93 L98.16,259.09 L98.70,259.25 L99.23,259.39 L99.76,259.54 L100.29,259.67 L100.82,259.81 L101.35,259.94 L101.87,260.06 L102.39,260.18 L102.91,260.30 L103.43,260.42 L103.95,260.53 L104.47,260.63 L104.99,260.74 L105.52,260.84 L106.04,260.93 L106.56,261.03 L107.08,261.12 L107.61,261.20 L108.14,261.29 L108.67,261.37 L109.21,261.45 L109.74,261.52 L110.28,261.59 L110.82,261.66 L111.36,261.73 L111.90,261.79 L112.44,261.85 L112.98,261.91 L113.52,261.96 L114.06,262.01 L114.60,262.06 L115.14,262.11 L115.67,262.15 L116.21,262.19 L116.74,262.23 L117.27,262.27 L117.80,262.30" fill="none" stroke="#ff7f0e" stroke-width="1.6" stroke-linejoin="round"/>
<line x1="80.4" y1="-2" x2="80.4" y2="262.5" stroke="#ff7f0e" stroke-width="1.6"/>
<line x1="89.0" y1="-2" x2="89.0" y2="262.5" stroke="#1f77b4" stroke-width="1.6"/>
</g>
<path d="M43.0,0.2 H377.0 M43.0,0.2 V262.5 M377.0,0.2 V262.5" stroke="#000" stroke-opacity="0.4" stroke-width="1.6" fill="none"/>
<line x1="43.0" y1="263.0" x2="43.0" y2="265.3" stroke="#000" stroke-opacity="0.55" stroke-width="1.2"/>
<text x="43.00" y="277.00" font-size="13" text-anchor="middle">0</text>
<line x1="85.52" y1="263.0" x2="85.52" y2="265.3" stroke="#000" stroke-opacity="0.55" stroke-width="1.2"/>
<text x="85.52" y="277.00" font-size="13" text-anchor="middle">2</text>
<line x1="128.04" y1="263.0" x2="128.04" y2="265.3" stroke="#000" stroke-opacity="0.55" stroke-width="1.2"/>
<text x="128.04" y="277.00" font-size="13" text-anchor="middle">4</text>
<line x1="170.56" y1="263.0" x2="170.56" y2="265.3" stroke="#000" stroke-opacity="0.55" stroke-width="1.2"/>
<text x="170.56" y="277.00" font-size="13" text-anchor="middle">6</text>
<line x1="213.08" y1="263.0" x2="213.08" y2="265.3" stroke="#000" stroke-opacity="0.55" stroke-width="1.2"/>
<text x="213.08" y="277.00" font-size="13" text-anchor="middle">8</text>
<line x1="255.6" y1="263.0" x2="255.6" y2="265.3" stroke="#000" stroke-opacity="0.55" stroke-width="1.2"/>
<text x="255.60" y="277.00" font-size="13" text-anchor="middle">10</text>
<line x1="298.12" y1="263.0" x2="298.12" y2="265.3" stroke="#000" stroke-opacity="0.55" stroke-width="1.2"/>
<text x="298.12" y="277.00" font-size="13" text-anchor="middle">12</text>
<line x1="340.64" y1="263.0" x2="340.64" y2="265.3" stroke="#000" stroke-opacity="0.55" stroke-width="1.2"/>
<text x="340.64" y="277.00" font-size="13" text-anchor="middle">14</text>
<line x1="40.2" y1="262.5" x2="42.5" y2="262.5" stroke="#000" stroke-opacity="0.55" stroke-width="1.2"/>
<text x="38.60" y="267.00" font-size="13" text-anchor="end">0.0</text>
<line x1="40.2" y1="230.5" x2="42.5" y2="230.5" stroke="#000" stroke-opacity="0.55" stroke-width="1.2"/>
<text x="38.60" y="235.00" font-size="13" text-anchor="end">0.5</text>
<line x1="40.2" y1="198.5" x2="42.5" y2="198.5" stroke="#000" stroke-opacity="0.55" stroke-width="1.2"/>
<text x="38.60" y="203.00" font-size="13" text-anchor="end">1.0</text>
<line x1="40.2" y1="166.5" x2="42.5" y2="166.5" stroke="#000" stroke-opacity="0.55" stroke-width="1.2"/>
<text x="38.60" y="171.00" font-size="13" text-anchor="end">1.5</text>
<line x1="40.2" y1="134.5" x2="42.5" y2="134.5" stroke="#000" stroke-opacity="0.55" stroke-width="1.2"/>
<text x="38.60" y="139.00" font-size="13" text-anchor="end">2.0</text>
<line x1="40.2" y1="102.5" x2="42.5" y2="102.5" stroke="#000" stroke-opacity="0.55" stroke-width="1.2"/>
<text x="38.60" y="107.00" font-size="13" text-anchor="end">2.5</text>
<line x1="40.2" y1="70.5" x2="42.5" y2="70.5" stroke="#000" stroke-opacity="0.55" stroke-width="1.2"/>
<text x="38.60" y="75.00" font-size="13" text-anchor="end">3.0</text>
<line x1="40.2" y1="38.5" x2="42.5" y2="38.5" stroke="#000" stroke-opacity="0.55" stroke-width="1.2"/>
<text x="38.60" y="43.00" font-size="13" text-anchor="end">3.5</text>
<line x1="40.2" y1="6.5" x2="42.5" y2="6.5" stroke="#000" stroke-opacity="0.55" stroke-width="1.2"/>
<text x="38.60" y="11.00" font-size="13" text-anchor="end">4.0</text>
<text x="173.10" y="293.90" font-size="16.5" font-style="italic" style="stroke-width:0.2px">C</text>
<text x="184.30" y="296.10" font-size="10.5" style="stroke-width:0.3px">21</text>
<text x="201.05" y="293.90" font-size="17.5" style="stroke-width:0.2px">(</text>
<text x="206.55" y="293.90" font-size="15" style="stroke-width:0.2px">10</text>
<rect x="223.00" y="284.45" width="6.6" height="0.9" fill="#1a1a1a"/>
<text x="230.60" y="287.20" font-size="10.5" style="stroke-width:0.3px">26</text>
<text x="240.50" y="293.90" font-size="17.5" style="stroke-width:0.2px">)</text>
<text transform="translate(14.00,180.70) rotate(-90)" font-size="15.5" font-style="italic" style="stroke-width:0.2px">p</text>
<text transform="translate(14.00,173.05) rotate(-90)" font-size="17.5" style="stroke-width:0.2px">(</text>
<text transform="translate(14.00,167.20) rotate(-90)" font-size="16.5" font-style="italic" style="stroke-width:0.2px">C</text>
<text transform="translate(16.20,156.00) rotate(-90)" font-size="10.5" style="stroke-width:0.3px">21</text>
<text transform="translate(14.00,144.45) rotate(-90)" font-size="17.5" style="stroke-width:0.2px">|</text>
<text transform="translate(14.00,139.80) rotate(-90)" font-size="15.5" font-weight="bold" style="stroke-width:0.2px">d</text>
<text transform="translate(14.00,129.20) rotate(-90)" font-size="17.5" style="stroke-width:0.2px">)</text>
<text transform="translate(14.00,118.05) rotate(-90)" font-size="17.5" style="stroke-width:0.2px">(</text>
<text transform="translate(14.00,112.95) rotate(-90)" font-size="15" style="stroke-width:0.2px">10</text>
<text transform="translate(7.80,97.50) rotate(-90)" font-size="10.5" style="stroke-width:0.3px">25</text>
<text transform="translate(14.00,85.50) rotate(-90)" font-size="17.5" style="stroke-width:0.2px">)</text>
<rect x="222.3" y="6.8" width="148.20" height="48.60" rx="2" fill="#fff" fill-opacity="0.8" stroke="#d6d6d6" stroke-width="0.8"/>
<line x1="227.40" y1="20.75" x2="254.50" y2="20.75" stroke="#1f77b4" stroke-width="1.6"/>
<text x="265.15" y="21.75" font-size="12.8" font-style="italic" style="stroke-width:0.25px">C</text>
<text x="275.65" y="16.60" font-size="9.5" style="stroke-width:0.3px">95%</text>
<text x="275.25" y="25.70" font-size="8.5" style="stroke-width:0.3px">21</text>
<text x="292.80" y="21.80" font-size="13.2" style="stroke-width:0.1px">:</text>
<text x="302.25" y="21.80" font-size="13.2" style="stroke-width:0.1px">unrestricted</text>
<line x1="227.40" y1="42.9" x2="254.50" y2="42.9" stroke="#ff7f0e" stroke-width="1.6"/>
<text x="265.15" y="43.75" font-size="12.8" font-style="italic" style="stroke-width:0.25px">C</text>
<text x="275.65" y="38.60" font-size="9.5" style="stroke-width:0.3px">95%</text>
<text x="275.25" y="47.70" font-size="8.5" style="stroke-width:0.3px">21</text>
<text x="292.80" y="43.80" font-size="13.2" style="stroke-width:0.1px">:</text>
<text x="302.25" y="43.80" font-size="13.2" style="stroke-width:0.1px">restricted</text>
<path d="M425.15,262.5 H760.4" stroke="#000" stroke-opacity="0.4" stroke-width="1.6" fill="none"/>
<clipPath id="clipR"><rect x="425.5" y="0" width="334.54999999999995" height="263.3"/></clipPath>
<g clip-path="url(#clipR)">
<path d="M425.46,80.13 L426.41,79.82 L427.34,79.47 L428.24,79.09 L429.12,78.69 L429.98,78.26 L430.82,77.80 L431.64,77.31 L432.44,76.81 L433.23,76.27 L433.99,75.72 L434.74,75.14 L435.46,74.54 L436.18,73.92 L436.87,73.28 L437.55,72.62 L438.22,71.95 L438.87,71.25 L439.51,70.54 L440.14,69.81 L440.75,69.07 L441.35,68.32 L441.94,67.55 L442.52,66.77 L443.09,65.97 L443.65,65.17 L444.19,64.35 L444.74,63.53 L445.27,62.70 L445.79,61.86 L446.31,61.01 L446.83,60.16 L447.33,59.30 L447.84,58.44 L448.33,57.58 L448.83,56.71 L449.32,55.84 L449.81,54.97 L450.29,54.10 L450.77,53.23 L451.26,52.36 L451.74,51.49 L452.22,50.63 L452.70,49.77 L453.19,48.91 L453.67,48.06 L454.16,47.22 L454.65,46.38 L455.15,45.56 L455.65,44.74 L456.15,43.93 L456.66,43.12 L457.17,42.33 L457.69,41.54 L458.21,40.75 L458.74,39.97 L459.27,39.18 L459.80,38.39 L460.34,37.59 L460.87,36.78 L461.41,35.97 L461.96,35.14 L462.50,34.30 L463.05,33.46 L463.61,32.61 L464.19,31.77 L464.77,30.95 L465.38,30.15 L466.01,29.37 L466.66,28.62 L467.34,27.92 L468.05,27.26 L468.80,26.65 L469.58,26.11 L470.40,25.62 L471.25,25.20 L472.13,24.85 L473.02,24.57 L473.93,24.37 L474.86,24.24 L475.78,24.19 L476.72,24.22 L477.64,24.34 L478.57,24.54 L479.48,24.82 L480.38,25.16 L481.27,25.57 L482.15,26.03 L483.00,26.54 L483.83,27.08 L484.64,27.67 L485.42,28.28 L486.18,28.92 L486.90,29.57 L487.60,30.25 L488.27,30.95 L488.92,31.66 L489.54,32.39 L490.14,33.15 L490.72,33.91 L491.28,34.69 L491.81,35.49 L492.33,36.30 L492.83,37.13 L493.31,37.97 L493.77,38.82 L494.22,39.68 L494.66,40.55 L495.08,41.43 L495.49,42.32 L495.89,43.21 L496.28,44.12 L496.65,45.03 L497.02,45.94 L497.39,46.86 L497.74,47.79 L498.09,48.72 L498.44,49.65 L498.78,50.58 L499.12,51.51 L499.45,52.44 L499.79,53.38 L500.13,54.31 L500.47,55.24 L500.80,56.16 L501.14,57.09 L501.48,58.02 L501.81,58.94 L502.15,59.87 L502.49,60.79 L502.83,61.71 L503.17,62.63 L503.50,63.55 L503.84,64.47 L504.18,65.39 L504.52,66.30 L504.86,67.22 L505.20,68.13 L505.54,69.05 L505.88,69.96 L506.22,70.87 L506.56,71.79 L506.90,72.70 L507.24,73.61 L507.58,74.52 L507.92,75.43 L508.26,76.34 L508.60,77.24 L508.94,78.15 L509.29,79.06 L509.63,79.97 L509.97,80.87 L510.31,81.78 L510.66,82.69 L511.00,83.59 L511.34,84.50 L511.69,85.40 L512.03,86.31 L512.37,87.21 L512.72,88.12 L513.06,89.02 L513.41,89.93 L513.75,90.83 L514.10,91.74 L514.44,92.64 L514.79,93.55 L515.14,94.45 L515.48,95.36 L515.83,96.26 L516.18,97.17 L516.53,98.07 L516.88,98.98 L517.22,99.89 L517.57,100.79 L517.92,101.70 L518.27,102.61 L518.62,103.51 L518.97,104.42 L519.32,105.33 L519.68,106.24 L520.03,107.15 L520.38,108.05 L520.74,108.96 L521.09,109.87 L521.45,110.78 L521.81,111.69 L522.16,112.59 L522.52,113.50 L522.88,114.41 L523.25,115.31 L523.61,116.22 L523.97,117.13 L524.34,118.03 L524.71,118.94 L525.08,119.84 L525.45,120.74 L525.82,121.65 L526.19,122.55 L526.57,123.45 L526.94,124.35 L527.32,125.25 L527.70,126.15 L528.09,127.05 L528.47,127.95 L528.86,128.84 L529.25,129.74 L529.64,130.63 L530.03,131.53 L530.42,132.42 L530.82,133.31 L531.22,134.20 L531.62,135.09 L532.03,135.98 L532.44,136.86 L532.85,137.75 L533.26,138.63 L533.68,139.51 L534.09,140.39 L534.51,141.27 L534.94,142.15 L535.36,143.02 L535.79,143.90 L536.23,144.77 L536.66,145.64 L537.10,146.51 L537.54,147.37 L537.99,148.24 L538.44,149.10 L538.89,149.96 L539.34,150.82 L539.80,151.68 L540.27,152.53 L540.73,153.38 L541.20,154.23 L541.67,155.08 L542.15,155.93 L542.63,156.77 L543.12,157.61 L543.61,158.45 L544.10,159.28 L544.59,160.12 L545.09,160.95 L545.60,161.78 L546.11,162.60 L546.62,163.43 L547.14,164.25 L547.66,165.06 L548.19,165.88 L548.72,166.69 L549.25,167.50 L549.79,168.31 L550.33,169.11 L550.88,169.91 L551.44,170.71 L551.99,171.50 L552.55,172.30 L553.12,173.09 L553.68,173.88 L554.25,174.67 L554.82,175.46 L555.40,176.24 L555.97,177.03 L556.55,177.82 L557.13,178.60 L557.70,179.39 L558.28,180.18 L558.86,180.97 L559.44,181.76 L560.02,182.55 L560.60,183.34 L561.18,184.14 L561.75,184.93 L562.33,185.73 L562.91,186.52 L563.49,187.32 L564.08,188.11 L564.67,188.89 L565.26,189.67 L565.86,190.45 L566.47,191.21 L567.09,191.96 L567.72,192.71 L568.35,193.44 L569.00,194.16 L569.66,194.87 L570.34,195.56 L571.03,196.24 L571.73,196.90 L572.45,197.54 L573.18,198.18 L573.91,198.79 L574.67,199.40 L575.43,199.99 L576.20,200.58 L576.98,201.15 L577.77,201.71 L578.57,202.26 L579.37,202.80 L580.19,203.34 L581.01,203.86 L581.83,204.38 L582.66,204.90 L583.50,205.40 L584.34,205.91 L585.19,206.40 L586.03,206.90 L586.88,207.39 L587.73,207.87 L588.59,208.36 L589.44,208.84 L590.29,209.32 L591.15,209.81 L592.00,210.29 L592.85,210.77 L593.70,211.26 L594.54,211.75 L595.39,212.24 L596.23,212.73 L597.06,213.23 L597.89,213.73 L598.72,214.24 L599.54,214.75 L600.36,215.26 L601.17,215.78 L601.98,216.31 L602.78,216.84 L603.58,217.38 L604.38,217.93 L605.17,218.48 L605.96,219.03 L606.74,219.60 L607.52,220.17 L608.29,220.74 L609.06,221.33 L609.83,221.92 L610.59,222.52 L611.35,223.13 L612.10,223.75 L612.84,224.37 L613.59,225.01 L614.32,225.65 L615.06,226.30 L615.79,226.96 L616.52,227.62 L617.24,228.28 L617.97,228.95 L618.70,229.62 L619.42,230.29 L620.15,230.95 L620.88,231.62 L621.61,232.28 L622.35,232.93 L623.08,233.58 L623.83,234.22 L624.58,234.85 L625.33,235.47 L626.09,236.08 L626.86,236.68 L627.64,237.26 L628.43,237.83 L629.22,238.38 L630.03,238.91 L630.84,239.43 L631.67,239.93 L632.50,240.41 L633.34,240.89 L634.19,241.35 L635.04,241.80 L635.90,242.24 L636.76,242.67 L637.64,243.09 L638.51,243.51 L639.39,243.93 L640.27,244.33 L641.16,244.74 L642.04,245.14 L642.93,245.55 L643.82,245.95 L644.71,246.36 L645.60,246.76 L646.49,247.17 L647.38,247.58 L648.27,248.00 L649.16,248.41 L650.05,248.83 L650.95,249.24 L651.84,249.66 L652.73,250.07 L653.62,250.48 L654.52,250.89 L655.41,251.29 L656.31,251.70 L657.21,252.09 L658.10,252.49 L659.00,252.88 L659.90,253.26 L660.81,253.64 L661.71,254.01 L662.62,254.37 L663.53,254.73 L664.44,255.08 L665.35,255.42 L666.26,255.74 L667.18,256.06 L668.10,256.37 L669.02,256.67 L669.94,256.96 L670.87,257.24 L671.80,257.51 L672.73,257.77 L673.66,258.03 L674.60,258.27 L675.53,258.50 L676.47,258.73 L677.41,258.94 L678.35,259.15 L679.30,259.35 L680.24,259.54 L681.19,259.73 L682.14,259.90 L683.09,260.07 L684.04,260.23 L685.00,260.39 L685.95,260.53 L686.91,260.67 L687.87,260.80 L688.83,260.93 L689.79,261.05 L690.76,261.16 L691.72,261.27 L692.69,261.37 L693.65,261.46 L694.62,261.55 L695.59,261.63 L696.56,261.71 L697.53,261.78 L698.50,261.85 L699.48,261.91 L700.45,261.97 L701.43,262.02 L702.40,262.07 L703.38,262.11 L704.36,262.15 L705.33,262.19 L706.31,262.22 L707.29,262.25 L708.27,262.27 L709.25,262.29 L710.23,262.31 L711.22,262.33 L712.20,262.34 L713.18,262.35 L714.16,262.35 L715.14,262.36 L716.13,262.36 L717.11,262.36 L718.09,262.36 L719.08,262.35 L720.06,262.35 L721.05,262.34 L722.03,262.33 L723.01,262.32 L724.00,262.31 L724.98,262.30 L725.96,262.29 L726.95,262.27 L727.93,262.26 L728.91,262.25 L729.89,262.23 L730.88,262.22 L731.86,262.20 L732.84,262.19 L733.82,262.18 L734.80,262.17 L735.78,262.16 L736.76,262.15 L737.73,262.14 L738.71,262.13 L739.69,262.12 L740.66,262.12 L741.64,262.12 L742.61,262.12 L743.58,262.12 L744.55,262.12 L745.53,262.13 L746.50,262.14 L747.46,262.15 L748.43,262.16 L749.40,262.18 L750.36,262.20 L751.33,262.23 L752.29,262.25 L753.25,262.28 L754.21,262.32 L755.17,262.36 L756.12,262.40 L757.08,262.45 L758.03,262.50 L758.99,262.56 L759.94,262.62 L759.94,262.50 L425.46,262.50 Z" fill="#1f77b4" fill-opacity="0.1"/>
<path d="M425.45,42.78 L426.23,43.00 L427.01,43.17 L427.80,43.31 L428.59,43.41 L429.39,43.48 L430.20,43.52 L431.01,43.52 L431.82,43.50 L432.64,43.45 L433.47,43.38 L434.29,43.28 L435.13,43.16 L435.96,43.02 L436.80,42.86 L437.64,42.69 L438.48,42.50 L439.33,42.30 L440.18,42.09 L441.03,41.86 L441.89,41.64 L442.74,41.40 L443.60,41.16 L444.46,40.92 L445.32,40.68 L446.18,40.44 L447.04,40.20 L447.91,39.97 L448.77,39.74 L449.63,39.53 L450.49,39.32 L451.35,39.12 L452.21,38.93 L453.06,38.75 L453.91,38.60 L454.76,38.45 L455.60,38.33 L456.44,38.22 L457.27,38.14 L458.10,38.08 L458.92,38.04 L459.73,38.03 L460.54,38.04 L461.34,38.08 L462.13,38.15 L462.92,38.25 L463.69,38.37 L464.46,38.52 L465.22,38.70 L465.98,38.90 L466.73,39.12 L467.47,39.37 L468.20,39.64 L468.93,39.93 L469.65,40.25 L470.36,40.59 L471.07,40.94 L471.77,41.32 L472.46,41.71 L473.14,42.13 L473.82,42.56 L474.50,43.01 L475.17,43.48 L475.83,43.96 L476.48,44.46 L477.13,44.97 L477.78,45.50 L478.41,46.04 L479.04,46.60 L479.67,47.17 L480.29,47.75 L480.90,48.34 L481.51,48.94 L482.12,49.55 L482.72,50.17 L483.31,50.81 L483.90,51.45 L484.48,52.09 L485.06,52.75 L485.63,53.41 L486.20,54.08 L486.76,54.75 L487.32,55.42 L487.87,56.11 L488.42,56.79 L488.97,57.48 L489.51,58.17 L490.04,58.86 L490.57,59.55 L491.10,60.25 L491.62,60.94 L492.14,61.63 L492.66,62.33 L493.17,63.02 L493.68,63.72 L494.19,64.41 L494.69,65.11 L495.19,65.80 L495.68,66.50 L496.18,67.19 L496.67,67.88 L497.16,68.58 L497.65,69.27 L498.13,69.97 L498.61,70.66 L499.10,71.35 L499.58,72.05 L500.05,72.74 L500.53,73.43 L501.01,74.12 L501.48,74.81 L501.96,75.50 L502.43,76.19 L502.91,76.88 L503.38,77.57 L503.86,78.26 L504.33,78.95 L504.80,79.63 L505.28,80.32 L505.75,81.00 L506.23,81.69 L506.71,82.37 L507.18,83.05 L507.66,83.73 L508.14,84.41 L508.63,85.09 L509.11,85.77 L509.59,86.45 L510.08,87.12 L510.57,87.80 L511.06,88.47 L511.56,89.14 L512.06,89.81 L512.56,90.48 L513.06,91.15 L513.57,91.81 L514.08,92.48 L514.59,93.14 L515.10,93.80 L515.62,94.46 L516.14,95.13 L516.66,95.78 L517.18,96.44 L517.70,97.10 L518.23,97.76 L518.75,98.42 L519.28,99.08 L519.81,99.74 L520.34,100.39 L520.86,101.05 L521.39,101.71 L521.92,102.37 L522.45,103.03 L522.97,103.69 L523.50,104.35 L524.02,105.02 L524.55,105.68 L525.07,106.34 L525.59,107.01 L526.11,107.68 L526.63,108.35 L527.14,109.02 L527.65,109.69 L528.16,110.37 L528.67,111.04 L529.17,111.72 L529.67,112.40 L530.17,113.09 L530.66,113.77 L531.15,114.46 L531.64,115.16 L532.12,115.85 L532.60,116.55 L533.08,117.25 L533.55,117.95 L534.01,118.65 L534.48,119.36 L534.94,120.07 L535.40,120.78 L535.85,121.49 L536.31,122.20 L536.76,122.92 L537.20,123.64 L537.65,124.36 L538.09,125.08 L538.52,125.80 L538.96,126.53 L539.39,127.26 L539.82,127.99 L540.25,128.72 L540.67,129.45 L541.10,130.18 L541.52,130.92 L541.94,131.65 L542.35,132.39 L542.77,133.13 L543.18,133.87 L543.59,134.61 L543.99,135.35 L544.40,136.10 L544.81,136.84 L545.21,137.59 L545.61,138.33 L546.01,139.08 L546.41,139.83 L546.80,140.58 L547.20,141.33 L547.59,142.08 L547.98,142.83 L548.37,143.58 L548.77,144.33 L549.15,145.08 L549.54,145.83 L549.93,146.58 L550.32,147.34 L550.70,148.09 L551.09,148.84 L551.47,149.60 L551.85,150.35 L552.24,151.10 L552.62,151.85 L553.00,152.61 L553.38,153.36 L553.76,154.11 L554.14,154.86 L554.53,155.62 L554.91,156.37 L555.29,157.12 L555.67,157.87 L556.05,158.62 L556.43,159.37 L556.81,160.12 L557.19,160.87 L557.57,161.62 L557.95,162.37 L558.33,163.12 L558.71,163.87 L559.10,164.61 L559.48,165.36 L559.86,166.11 L560.25,166.86 L560.63,167.60 L561.02,168.35 L561.40,169.09 L561.79,169.84 L562.17,170.58 L562.56,171.32 L562.95,172.07 L563.34,172.81 L563.73,173.55 L564.12,174.29 L564.51,175.03 L564.91,175.77 L565.30,176.51 L565.70,177.25 L566.10,177.98 L566.49,178.72 L566.89,179.46 L567.29,180.19 L567.70,180.93 L568.10,181.66 L568.51,182.39 L568.91,183.12 L569.32,183.86 L569.73,184.59 L570.15,185.32 L570.56,186.04 L570.98,186.77 L571.39,187.50 L571.81,188.23 L572.23,188.95 L572.66,189.67 L573.08,190.40 L573.51,191.12 L573.94,191.84 L574.37,192.56 L574.81,193.28 L575.24,194.00 L575.68,194.72 L576.12,195.43 L576.57,196.15 L577.01,196.86 L577.46,197.57 L577.91,198.28 L578.37,198.99 L578.82,199.70 L579.28,200.41 L579.75,201.12 L580.21,201.82 L580.68,202.53 L581.15,203.23 L581.62,203.93 L582.10,204.64 L582.58,205.33 L583.06,206.03 L583.55,206.73 L584.04,207.43 L584.53,208.12 L585.03,208.81 L585.53,209.50 L586.03,210.19 L586.54,210.88 L587.04,211.57 L587.56,212.25 L588.07,212.94 L588.59,213.62 L589.12,214.30 L589.64,214.97 L590.17,215.65 L590.70,216.32 L591.24,216.99 L591.78,217.66 L592.32,218.32 L592.87,218.99 L593.42,219.65 L593.97,220.30 L594.53,220.96 L595.09,221.61 L595.65,222.25 L596.22,222.90 L596.79,223.54 L597.36,224.18 L597.94,224.81 L598.52,225.44 L599.10,226.07 L599.69,226.69 L600.28,227.31 L600.88,227.92 L601.47,228.53 L602.08,229.14 L602.68,229.74 L603.29,230.34 L603.90,230.94 L604.52,231.52 L605.13,232.11 L605.76,232.69 L606.38,233.26 L607.01,233.83 L607.64,234.40 L608.28,234.96 L608.92,235.51 L609.56,236.06 L610.21,236.61 L610.86,237.14 L611.51,237.68 L612.17,238.20 L612.83,238.73 L613.49,239.24 L614.16,239.75 L614.83,240.26 L615.51,240.75 L616.18,241.24 L616.86,241.73 L617.55,242.21 L618.24,242.68 L618.93,243.15 L619.63,243.61 L620.33,244.06 L621.03,244.50 L621.74,244.94 L622.45,245.37 L623.16,245.80 L623.88,246.22 L624.60,246.63 L625.32,247.03 L626.05,247.43 L626.78,247.82 L627.51,248.20 L628.25,248.58 L628.99,248.95 L629.73,249.31 L630.48,249.67 L631.23,250.02 L631.98,250.36 L632.74,250.70 L633.50,251.03 L634.26,251.36 L635.03,251.68 L635.79,251.99 L636.56,252.30 L637.34,252.60 L638.11,252.89 L638.89,253.18 L639.67,253.47 L640.45,253.74 L641.24,254.02 L642.03,254.28 L642.82,254.54 L643.61,254.80 L644.41,255.05 L645.21,255.30 L646.01,255.53 L646.81,255.77 L647.61,256.00 L648.42,256.22 L649.23,256.44 L650.04,256.65 L650.85,256.86 L651.67,257.07 L652.48,257.26 L653.30,257.46 L654.12,257.65 L654.95,257.83 L655.77,258.01 L656.60,258.19 L657.42,258.36 L658.25,258.52 L659.08,258.69 L659.91,258.84 L660.75,259.00 L661.58,259.15 L662.42,259.29 L663.26,259.43 L664.10,259.57 L664.94,259.70 L665.78,259.83 L666.62,259.95 L667.47,260.07 L668.31,260.19 L669.16,260.31 L670.00,260.42 L670.85,260.52 L671.70,260.62 L672.55,260.72 L673.40,260.82 L674.25,260.91 L675.11,261.00 L675.96,261.08 L676.81,261.17 L677.67,261.25 L678.52,261.32 L679.38,261.40 L680.24,261.47 L681.09,261.53 L681.95,261.60 L682.81,261.66 L683.66,261.72 L684.52,261.77 L685.38,261.83 L686.24,261.88 L687.10,261.93 L687.96,261.97 L688.81,262.02 L689.67,262.06 L690.53,262.10 L691.39,262.13 L692.25,262.17 L693.11,262.20 L693.97,262.23 L694.83,262.26 L695.68,262.28 L696.54,262.31 L697.40,262.33 L698.25,262.35 L699.11,262.37 L699.97,262.39 L700.82,262.40 L701.68,262.42 L702.53,262.43 L703.39,262.44 L704.24,262.45 L705.09,262.46 L705.94,262.47 L706.79,262.47 L707.64,262.48 L708.49,262.48 L709.34,262.49 L710.19,262.49 L711.03,262.49 L711.88,262.49 L712.72,262.49 L713.56,262.49 L714.40,262.48 L715.24,262.48 L716.08,262.48 L716.92,262.48 L717.76,262.47 L718.59,262.47 L719.42,262.46 L720.25,262.46 L721.08,262.45 L721.91,262.44 L722.74,262.44 L723.56,262.43 L724.39,262.43 L725.21,262.42 L726.03,262.42 L726.85,262.41 L727.66,262.41 L728.48,262.40 L729.29,262.40 L730.10,262.39 L730.91,262.39 L731.71,262.38 L732.52,262.38 L733.32,262.38 L734.12,262.38 L734.92,262.38 L735.71,262.38 L736.50,262.38 L736.50,262.50 L425.45,262.50 Z" fill="#ff7f0e" fill-opacity="0.1"/>
<path d="M425.46,80.13 L426.41,79.82 L427.34,79.47 L428.24,79.09 L429.12,78.69 L429.98,78.26 L430.82,77.80 L431.64,77.31 L432.44,76.81 L433.23,76.27 L433.99,75.72 L434.74,75.14 L435.46,74.54 L436.18,73.92 L436.87,73.28 L437.55,72.62 L438.22,71.95 L438.87,71.25 L439.51,70.54 L440.14,69.81 L440.75,69.07 L441.35,68.32 L441.94,67.55 L442.52,66.77 L443.09,65.97 L443.65,65.17 L444.19,64.35 L444.74,63.53 L445.27,62.70 L445.79,61.86 L446.31,61.01 L446.83,60.16 L447.33,59.30 L447.84,58.44 L448.33,57.58 L448.83,56.71 L449.32,55.84 L449.81,54.97 L450.29,54.10 L450.77,53.23 L451.26,52.36 L451.74,51.49 L452.22,50.63 L452.70,49.77 L453.19,48.91 L453.67,48.06 L454.16,47.22 L454.65,46.38 L455.15,45.56 L455.65,44.74 L456.15,43.93 L456.66,43.12 L457.17,42.33 L457.69,41.54 L458.21,40.75 L458.74,39.97 L459.27,39.18 L459.80,38.39 L460.34,37.59 L460.87,36.78 L461.41,35.97 L461.96,35.14 L462.50,34.30 L463.05,33.46 L463.61,32.61 L464.19,31.77 L464.77,30.95 L465.38,30.15 L466.01,29.37 L466.66,28.62 L467.34,27.92 L468.05,27.26 L468.80,26.65 L469.58,26.11 L470.40,25.62 L471.25,25.20 L472.13,24.85 L473.02,24.57 L473.93,24.37 L474.86,24.24 L475.78,24.19 L476.72,24.22 L477.64,24.34 L478.57,24.54 L479.48,24.82 L480.38,25.16 L481.27,25.57 L482.15,26.03 L483.00,26.54 L483.83,27.08 L484.64,27.67 L485.42,28.28 L486.18,28.92 L486.90,29.57 L487.60,30.25 L488.27,30.95 L488.92,31.66 L489.54,32.39 L490.14,33.15 L490.72,33.91 L491.28,34.69 L491.81,35.49 L492.33,36.30 L492.83,37.13 L493.31,37.97 L493.77,38.82 L494.22,39.68 L494.66,40.55 L495.08,41.43 L495.49,42.32 L495.89,43.21 L496.28,44.12 L496.65,45.03 L497.02,45.94 L497.39,46.86 L497.74,47.79 L498.09,48.72 L498.44,49.65 L498.78,50.58 L499.12,51.51 L499.45,52.44 L499.79,53.38 L500.13,54.31 L500.47,55.24 L500.80,56.16 L501.14,57.09 L501.48,58.02 L501.81,58.94 L502.15,59.87 L502.49,60.79 L502.83,61.71 L503.17,62.63 L503.50,63.55 L503.84,64.47 L504.18,65.39 L504.52,66.30 L504.86,67.22 L505.20,68.13 L505.54,69.05 L505.88,69.96 L506.22,70.87 L506.56,71.79 L506.90,72.70 L507.24,73.61 L507.58,74.52 L507.92,75.43 L508.26,76.34 L508.60,77.24 L508.94,78.15 L509.29,79.06 L509.63,79.97 L509.97,80.87 L510.31,81.78 L510.66,82.69 L511.00,83.59 L511.34,84.50 L511.69,85.40 L512.03,86.31 L512.37,87.21 L512.72,88.12 L513.06,89.02 L513.41,89.93 L513.75,90.83 L514.10,91.74 L514.44,92.64 L514.79,93.55 L515.14,94.45 L515.48,95.36 L515.83,96.26 L516.18,97.17 L516.53,98.07 L516.88,98.98 L517.22,99.89 L517.57,100.79 L517.92,101.70 L518.27,102.61 L518.62,103.51 L518.97,104.42 L519.32,105.33 L519.68,106.24 L520.03,107.15 L520.38,108.05 L520.74,108.96 L521.09,109.87 L521.45,110.78 L521.81,111.69 L522.16,112.59 L522.52,113.50 L522.88,114.41 L523.25,115.31 L523.61,116.22 L523.97,117.13 L524.34,118.03 L524.71,118.94 L525.08,119.84 L525.45,120.74 L525.82,121.65 L526.19,122.55 L526.57,123.45 L526.94,124.35 L527.32,125.25 L527.70,126.15 L528.09,127.05 L528.47,127.95 L528.86,128.84 L529.25,129.74 L529.64,130.63 L530.03,131.53 L530.42,132.42 L530.82,133.31 L531.22,134.20 L531.62,135.09 L532.03,135.98 L532.44,136.86 L532.85,137.75 L533.26,138.63 L533.68,139.51 L534.09,140.39 L534.51,141.27 L534.94,142.15 L535.36,143.02 L535.79,143.90 L536.23,144.77 L536.66,145.64 L537.10,146.51 L537.54,147.37 L537.99,148.24 L538.44,149.10 L538.89,149.96 L539.34,150.82 L539.80,151.68 L540.27,152.53 L540.73,153.38 L541.20,154.23 L541.67,155.08 L542.15,155.93 L542.63,156.77 L543.12,157.61 L543.61,158.45 L544.10,159.28 L544.59,160.12 L545.09,160.95 L545.60,161.78 L546.11,162.60 L546.62,163.43 L547.14,164.25 L547.66,165.06 L548.19,165.88 L548.72,166.69 L549.25,167.50 L549.79,168.31 L550.33,169.11 L550.88,169.91 L551.44,170.71 L551.99,171.50 L552.55,172.30 L553.12,173.09 L553.68,173.88 L554.25,174.67 L554.82,175.46 L555.40,176.24 L555.97,177.03 L556.55,177.82 L557.13,178.60 L557.70,179.39 L558.28,180.18 L558.86,180.97 L559.44,181.76 L560.02,182.55 L560.60,183.34 L561.18,184.14 L561.75,184.93 L562.33,185.73 L562.91,186.52 L563.49,187.32 L564.08,188.11 L564.67,188.89 L565.26,189.67 L565.86,190.45 L566.47,191.21 L567.09,191.96 L567.72,192.71 L568.35,193.44 L569.00,194.16 L569.66,194.87 L570.34,195.56 L571.03,196.24 L571.73,196.90 L572.45,197.54 L573.18,198.18 L573.91,198.79 L574.67,199.40 L575.43,199.99 L576.20,200.58 L576.98,201.15 L577.77,201.71 L578.57,202.26 L579.37,202.80 L580.19,203.34 L581.01,203.86 L581.83,204.38 L582.66,204.90 L583.50,205.40 L584.34,205.91 L585.19,206.40 L586.03,206.90 L586.88,207.39 L587.73,207.87 L588.59,208.36 L589.44,208.84 L590.29,209.32 L591.15,209.81 L592.00,210.29 L592.85,210.77 L593.70,211.26 L594.54,211.75 L595.39,212.24 L596.23,212.73 L597.06,213.23 L597.89,213.73 L598.72,214.24 L599.54,214.75 L600.36,215.26 L601.17,215.78 L601.98,216.31 L602.78,216.84 L603.58,217.38 L604.38,217.93 L605.17,218.48 L605.96,219.03 L606.74,219.60 L607.52,220.17 L608.29,220.74 L609.06,221.33 L609.83,221.92 L610.59,222.52 L611.35,223.13 L612.10,223.75 L612.84,224.37 L613.59,225.01 L614.32,225.65 L615.06,226.30 L615.79,226.96 L616.52,227.62 L617.24,228.28 L617.97,228.95 L618.70,229.62 L619.42,230.29 L620.15,230.95 L620.88,231.62 L621.61,232.28 L622.35,232.93 L623.08,233.58 L623.83,234.22 L624.58,234.85 L625.33,235.47 L626.09,236.08 L626.86,236.68 L627.64,237.26 L628.43,237.83 L629.22,238.38 L630.03,238.91 L630.84,239.43 L631.67,239.93 L632.50,240.41 L633.34,240.89 L634.19,241.35 L635.04,241.80 L635.90,242.24 L636.76,242.67 L637.64,243.09 L638.51,243.51 L639.39,243.93 L640.27,244.33 L641.16,244.74 L642.04,245.14 L642.93,245.55 L643.82,245.95 L644.71,246.36 L645.60,246.76 L646.49,247.17 L647.38,247.58 L648.27,248.00 L649.16,248.41 L650.05,248.83 L650.95,249.24 L651.84,249.66 L652.73,250.07 L653.62,250.48 L654.52,250.89 L655.41,251.29 L656.31,251.70 L657.21,252.09 L658.10,252.49 L659.00,252.88 L659.90,253.26 L660.81,253.64 L661.71,254.01 L662.62,254.37 L663.53,254.73 L664.44,255.08 L665.35,255.42 L666.26,255.74 L667.18,256.06 L668.10,256.37 L669.02,256.67 L669.94,256.96 L670.87,257.24 L671.80,257.51 L672.73,257.77 L673.66,258.03 L674.60,258.27 L675.53,258.50 L676.47,258.73 L677.41,258.94 L678.35,259.15 L679.30,259.35 L680.24,259.54 L681.19,259.73 L682.14,259.90 L683.09,260.07 L684.04,260.23 L685.00,260.39 L685.95,260.53 L686.91,260.67 L687.87,260.80 L688.83,260.93 L689.79,261.05 L690.76,261.16 L691.72,261.27 L692.69,261.37 L693.65,261.46 L694.62,261.55 L695.59,261.63 L696.56,261.71 L697.53,261.78 L698.50,261.85 L699.48,261.91 L700.45,261.97 L701.43,262.02 L702.40,262.07 L703.38,262.11 L704.36,262.15 L705.33,262.19 L706.31,262.22 L707.29,262.25 L708.27,262.27 L709.25,262.29 L710.23,262.31 L711.22,262.33 L712.20,262.34 L713.18,262.35 L714.16,262.35 L715.14,262.36 L716.13,262.36 L717.11,262.36 L718.09,262.36 L719.08,262.35 L720.06,262.35 L721.05,262.34 L722.03,262.33 L723.01,262.32 L724.00,262.31 L724.98,262.30 L725.96,262.29 L726.95,262.27 L727.93,262.26 L728.91,262.25 L729.89,262.23 L730.88,262.22 L731.86,262.20 L732.84,262.19 L733.82,262.18 L734.80,262.17 L735.78,262.16 L736.76,262.15 L737.73,262.14 L738.71,262.13 L739.69,262.12 L740.66,262.12 L741.64,262.12 L742.61,262.12 L743.58,262.12 L744.55,262.12 L745.53,262.13 L746.50,262.14 L747.46,262.15 L748.43,262.16 L749.40,262.18 L750.36,262.20 L751.33,262.23 L752.29,262.25 L753.25,262.28 L754.21,262.32 L755.17,262.36 L756.12,262.40 L757.08,262.45 L758.03,262.50 L758.99,262.56 L759.94,262.62" fill="none" stroke="#1f77b4" stroke-width="1.6" stroke-linejoin="round"/>
<path d="M425.45,42.78 L426.23,43.00 L427.01,43.17 L427.80,43.31 L428.59,43.41 L429.39,43.48 L430.20,43.52 L431.01,43.52 L431.82,43.50 L432.64,43.45 L433.47,43.38 L434.29,43.28 L435.13,43.16 L435.96,43.02 L436.80,42.86 L437.64,42.69 L438.48,42.50 L439.33,42.30 L440.18,42.09 L441.03,41.86 L441.89,41.64 L442.74,41.40 L443.60,41.16 L444.46,40.92 L445.32,40.68 L446.18,40.44 L447.04,40.20 L447.91,39.97 L448.77,39.74 L449.63,39.53 L450.49,39.32 L451.35,39.12 L452.21,38.93 L453.06,38.75 L453.91,38.60 L454.76,38.45 L455.60,38.33 L456.44,38.22 L457.27,38.14 L458.10,38.08 L458.92,38.04 L459.73,38.03 L460.54,38.04 L461.34,38.08 L462.13,38.15 L462.92,38.25 L463.69,38.37 L464.46,38.52 L465.22,38.70 L465.98,38.90 L466.73,39.12 L467.47,39.37 L468.20,39.64 L468.93,39.93 L469.65,40.25 L470.36,40.59 L471.07,40.94 L471.77,41.32 L472.46,41.71 L473.14,42.13 L473.82,42.56 L474.50,43.01 L475.17,43.48 L475.83,43.96 L476.48,44.46 L477.13,44.97 L477.78,45.50 L478.41,46.04 L479.04,46.60 L479.67,47.17 L480.29,47.75 L480.90,48.34 L481.51,48.94 L482.12,49.55 L482.72,50.17 L483.31,50.81 L483.90,51.45 L484.48,52.09 L485.06,52.75 L485.63,53.41 L486.20,54.08 L486.76,54.75 L487.32,55.42 L487.87,56.11 L488.42,56.79 L488.97,57.48 L489.51,58.17 L490.04,58.86 L490.57,59.55 L491.10,60.25 L491.62,60.94 L492.14,61.63 L492.66,62.33 L493.17,63.02 L493.68,63.72 L494.19,64.41 L494.69,65.11 L495.19,65.80 L495.68,66.50 L496.18,67.19 L496.67,67.88 L497.16,68.58 L497.65,69.27 L498.13,69.97 L498.61,70.66 L499.10,71.35 L499.58,72.05 L500.05,72.74 L500.53,73.43 L501.01,74.12 L501.48,74.81 L501.96,75.50 L502.43,76.19 L502.91,76.88 L503.38,77.57 L503.86,78.26 L504.33,78.95 L504.80,79.63 L505.28,80.32 L505.75,81.00 L506.23,81.69 L506.71,82.37 L507.18,83.05 L507.66,83.73 L508.14,84.41 L508.63,85.09 L509.11,85.77 L509.59,86.45 L510.08,87.12 L510.57,87.80 L511.06,88.47 L511.56,89.14 L512.06,89.81 L512.56,90.48 L513.06,91.15 L513.57,91.81 L514.08,92.48 L514.59,93.14 L515.10,93.80 L515.62,94.46 L516.14,95.13 L516.66,95.78 L517.18,96.44 L517.70,97.10 L518.23,97.76 L518.75,98.42 L519.28,99.08 L519.81,99.74 L520.34,100.39 L520.86,101.05 L521.39,101.71 L521.92,102.37 L522.45,103.03 L522.97,103.69 L523.50,104.35 L524.02,105.02 L524.55,105.68 L525.07,106.34 L525.59,107.01 L526.11,107.68 L526.63,108.35 L527.14,109.02 L527.65,109.69 L528.16,110.37 L528.67,111.04 L529.17,111.72 L529.67,112.40 L530.17,113.09 L530.66,113.77 L531.15,114.46 L531.64,115.16 L532.12,115.85 L532.60,116.55 L533.08,117.25 L533.55,117.95 L534.01,118.65 L534.48,119.36 L534.94,120.07 L535.40,120.78 L535.85,121.49 L536.31,122.20 L536.76,122.92 L537.20,123.64 L537.65,124.36 L538.09,125.08 L538.52,125.80 L538.96,126.53 L539.39,127.26 L539.82,127.99 L540.25,128.72 L540.67,129.45 L541.10,130.18 L541.52,130.92 L541.94,131.65 L542.35,132.39 L542.77,133.13 L543.18,133.87 L543.59,134.61 L543.99,135.35 L544.40,136.10 L544.81,136.84 L545.21,137.59 L545.61,138.33 L546.01,139.08 L546.41,139.83 L546.80,140.58 L547.20,141.33 L547.59,142.08 L547.98,142.83 L548.37,143.58 L548.77,144.33 L549.15,145.08 L549.54,145.83 L549.93,146.58 L550.32,147.34 L550.70,148.09 L551.09,148.84 L551.47,149.60 L551.85,150.35 L552.24,151.10 L552.62,151.85 L553.00,152.61 L553.38,153.36 L553.76,154.11 L554.14,154.86 L554.53,155.62 L554.91,156.37 L555.29,157.12 L555.67,157.87 L556.05,158.62 L556.43,159.37 L556.81,160.12 L557.19,160.87 L557.57,161.62 L557.95,162.37 L558.33,163.12 L558.71,163.87 L559.10,164.61 L559.48,165.36 L559.86,166.11 L560.25,166.86 L560.63,167.60 L561.02,168.35 L561.40,169.09 L561.79,169.84 L562.17,170.58 L562.56,171.32 L562.95,172.07 L563.34,172.81 L563.73,173.55 L564.12,174.29 L564.51,175.03 L564.91,175.77 L565.30,176.51 L565.70,177.25 L566.10,177.98 L566.49,178.72 L566.89,179.46 L567.29,180.19 L567.70,180.93 L568.10,181.66 L568.51,182.39 L568.91,183.12 L569.32,183.86 L569.73,184.59 L570.15,185.32 L570.56,186.04 L570.98,186.77 L571.39,187.50 L571.81,188.23 L572.23,188.95 L572.66,189.67 L573.08,190.40 L573.51,191.12 L573.94,191.84 L574.37,192.56 L574.81,193.28 L575.24,194.00 L575.68,194.72 L576.12,195.43 L576.57,196.15 L577.01,196.86 L577.46,197.57 L577.91,198.28 L578.37,198.99 L578.82,199.70 L579.28,200.41 L579.75,201.12 L580.21,201.82 L580.68,202.53 L581.15,203.23 L581.62,203.93 L582.10,204.64 L582.58,205.33 L583.06,206.03 L583.55,206.73 L584.04,207.43 L584.53,208.12 L585.03,208.81 L585.53,209.50 L586.03,210.19 L586.54,210.88 L587.04,211.57 L587.56,212.25 L588.07,212.94 L588.59,213.62 L589.12,214.30 L589.64,214.97 L590.17,215.65 L590.70,216.32 L591.24,216.99 L591.78,217.66 L592.32,218.32 L592.87,218.99 L593.42,219.65 L593.97,220.30 L594.53,220.96 L595.09,221.61 L595.65,222.25 L596.22,222.90 L596.79,223.54 L597.36,224.18 L597.94,224.81 L598.52,225.44 L599.10,226.07 L599.69,226.69 L600.28,227.31 L600.88,227.92 L601.47,228.53 L602.08,229.14 L602.68,229.74 L603.29,230.34 L603.90,230.94 L604.52,231.52 L605.13,232.11 L605.76,232.69 L606.38,233.26 L607.01,233.83 L607.64,234.40 L608.28,234.96 L608.92,235.51 L609.56,236.06 L610.21,236.61 L610.86,237.14 L611.51,237.68 L612.17,238.20 L612.83,238.73 L613.49,239.24 L614.16,239.75 L614.83,240.26 L615.51,240.75 L616.18,241.24 L616.86,241.73 L617.55,242.21 L618.24,242.68 L618.93,243.15 L619.63,243.61 L620.33,244.06 L621.03,244.50 L621.74,244.94 L622.45,245.37 L623.16,245.80 L623.88,246.22 L624.60,246.63 L625.32,247.03 L626.05,247.43 L626.78,247.82 L627.51,248.20 L628.25,248.58 L628.99,248.95 L629.73,249.31 L630.48,249.67 L631.23,250.02 L631.98,250.36 L632.74,250.70 L633.50,251.03 L634.26,251.36 L635.03,251.68 L635.79,251.99 L636.56,252.30 L637.34,252.60 L638.11,252.89 L638.89,253.18 L639.67,253.47 L640.45,253.74 L641.24,254.02 L642.03,254.28 L642.82,254.54 L643.61,254.80 L644.41,255.05 L645.21,255.30 L646.01,255.53 L646.81,255.77 L647.61,256.00 L648.42,256.22 L649.23,256.44 L650.04,256.65 L650.85,256.86 L651.67,257.07 L652.48,257.26 L653.30,257.46 L654.12,257.65 L654.95,257.83 L655.77,258.01 L656.60,258.19 L657.42,258.36 L658.25,258.52 L659.08,258.69 L659.91,258.84 L660.75,259.00 L661.58,259.15 L662.42,259.29 L663.26,259.43 L664.10,259.57 L664.94,259.70 L665.78,259.83 L666.62,259.95 L667.47,260.07 L668.31,260.19 L669.16,260.31 L670.00,260.42 L670.85,260.52 L671.70,260.62 L672.55,260.72 L673.40,260.82 L674.25,260.91 L675.11,261.00 L675.96,261.08 L676.81,261.17 L677.67,261.25 L678.52,261.32 L679.38,261.40 L680.24,261.47 L681.09,261.53 L681.95,261.60 L682.81,261.66 L683.66,261.72 L684.52,261.77 L685.38,261.83 L686.24,261.88 L687.10,261.93 L687.96,261.97 L688.81,262.02 L689.67,262.06 L690.53,262.10 L691.39,262.13 L692.25,262.17 L693.11,262.20 L693.97,262.23 L694.83,262.26 L695.68,262.28 L696.54,262.31 L697.40,262.33 L698.25,262.35 L699.11,262.37 L699.97,262.39 L700.82,262.40 L701.68,262.42 L702.53,262.43 L703.39,262.44 L704.24,262.45 L705.09,262.46 L705.94,262.47 L706.79,262.47 L707.64,262.48 L708.49,262.48 L709.34,262.49 L710.19,262.49 L711.03,262.49 L711.88,262.49 L712.72,262.49 L713.56,262.49 L714.40,262.48 L715.24,262.48 L716.08,262.48 L716.92,262.48 L717.76,262.47 L718.59,262.47 L719.42,262.46 L720.25,262.46 L721.08,262.45 L721.91,262.44 L722.74,262.44 L723.56,262.43 L724.39,262.43 L725.21,262.42 L726.03,262.42 L726.85,262.41 L727.66,262.41 L728.48,262.40 L729.29,262.40 L730.10,262.39 L730.91,262.39 L731.71,262.38 L732.52,262.38 L733.32,262.38 L734.12,262.38 L734.92,262.38 L735.71,262.38 L736.50,262.38" fill="none" stroke="#ff7f0e" stroke-width="1.6" stroke-linejoin="round"/>
<line x1="588.2" y1="-2" x2="588.2" y2="262.5" stroke="#ff7f0e" stroke-width="1.6"/>
<line x1="607.6" y1="-2" x2="607.6" y2="262.5" stroke="#1f77b4" stroke-width="1.6"/>
</g>
<path d="M425.5,0.2 H760.05 M425.5,0.2 V262.5 M760.05,0.2 V262.5" stroke="#000" stroke-opacity="0.4" stroke-width="1.6" fill="none"/>
<line x1="425.3" y1="263.0" x2="425.3" y2="265.3" stroke="#000" stroke-opacity="0.55" stroke-width="1.2"/>
<text x="425.30" y="277.00" font-size="13" text-anchor="middle">0</text>
<line x1="490.02" y1="263.0" x2="490.02" y2="265.3" stroke="#000" stroke-opacity="0.55" stroke-width="1.2"/>
<text x="490.02" y="277.00" font-size="13" text-anchor="middle">2</text>
<line x1="554.74" y1="263.0" x2="554.74" y2="265.3" stroke="#000" stroke-opacity="0.55" stroke-width="1.2"/>
<text x="554.74" y="277.00" font-size="13" text-anchor="middle">4</text>
<line x1="619.46" y1="263.0" x2="619.46" y2="265.3" stroke="#000" stroke-opacity="0.55" stroke-width="1.2"/>
<text x="619.46" y="277.00" font-size="13" text-anchor="middle">6</text>
<line x1="684.18" y1="263.0" x2="684.18" y2="265.3" stroke="#000" stroke-opacity="0.55" stroke-width="1.2"/>
<text x="684.18" y="277.00" font-size="13" text-anchor="middle">8</text>
<line x1="748.9" y1="263.0" x2="748.9" y2="265.3" stroke="#000" stroke-opacity="0.55" stroke-width="1.2"/>
<text x="748.90" y="277.00" font-size="13" text-anchor="middle">10</text>
<line x1="422.7" y1="262.5" x2="425.0" y2="262.5" stroke="#000" stroke-opacity="0.55" stroke-width="1.2"/>
<text x="421.10" y="267.00" font-size="13" text-anchor="end">0.0</text>
<line x1="422.7" y1="227.48" x2="425.0" y2="227.48" stroke="#000" stroke-opacity="0.55" stroke-width="1.2"/>
<text x="421.10" y="231.98" font-size="13" text-anchor="end">0.2</text>
<line x1="422.7" y1="192.46" x2="425.0" y2="192.46" stroke="#000" stroke-opacity="0.55" stroke-width="1.2"/>
<text x="421.10" y="196.96" font-size="13" text-anchor="end">0.4</text>
<line x1="422.7" y1="157.44" x2="425.0" y2="157.44" stroke="#000" stroke-opacity="0.55" stroke-width="1.2"/>
<text x="421.10" y="161.94" font-size="13" text-anchor="end">0.6</text>
<line x1="422.7" y1="122.42" x2="425.0" y2="122.42" stroke="#000" stroke-opacity="0.55" stroke-width="1.2"/>
<text x="421.10" y="126.92" font-size="13" text-anchor="end">0.8</text>
<line x1="422.7" y1="87.4" x2="425.0" y2="87.4" stroke="#000" stroke-opacity="0.55" stroke-width="1.2"/>
<text x="421.10" y="91.90" font-size="13" text-anchor="end">1.0</text>
<line x1="422.7" y1="52.38" x2="425.0" y2="52.38" stroke="#000" stroke-opacity="0.55" stroke-width="1.2"/>
<text x="421.10" y="56.88" font-size="13" text-anchor="end">1.2</text>
<line x1="422.7" y1="17.36" x2="425.0" y2="17.36" stroke="#000" stroke-opacity="0.55" stroke-width="1.2"/>
<text x="421.10" y="21.86" font-size="13" text-anchor="end">1.4</text>
<text x="555.60" y="293.90" font-size="16.5" font-style="italic" style="stroke-width:0.2px">C</text>
<text x="566.80" y="296.10" font-size="10.5" style="stroke-width:0.3px">22</text>
<text x="583.55" y="293.90" font-size="17.5" style="stroke-width:0.2px">(</text>
<text x="589.05" y="293.90" font-size="15" style="stroke-width:0.2px">10</text>
<rect x="605.50" y="284.45" width="6.6" height="0.9" fill="#1a1a1a"/>
<text x="613.10" y="287.20" font-size="10.5" style="stroke-width:0.3px">27</text>
<text x="623.00" y="293.90" font-size="17.5" style="stroke-width:0.2px">)</text>
<text transform="translate(396.50,180.70) rotate(-90)" font-size="15.5" font-style="italic" style="stroke-width:0.2px">p</text>
<text transform="translate(396.50,173.05) rotate(-90)" font-size="17.5" style="stroke-width:0.2px">(</text>
<text transform="translate(396.50,167.20) rotate(-90)" font-size="16.5" font-style="italic" style="stroke-width:0.2px">C</text>
<text transform="translate(398.70,156.00) rotate(-90)" font-size="10.5" style="stroke-width:0.3px">22</text>
<text transform="translate(396.50,144.45) rotate(-90)" font-size="17.5" style="stroke-width:0.2px">|</text>
<text transform="translate(396.50,139.80) rotate(-90)" font-size="15.5" font-weight="bold" style="stroke-width:0.2px">d</text>
<text transform="translate(396.50,129.20) rotate(-90)" font-size="17.5" style="stroke-width:0.2px">)</text>
<text transform="translate(396.50,118.05) rotate(-90)" font-size="17.5" style="stroke-width:0.2px">(</text>
<text transform="translate(396.50,112.95) rotate(-90)" font-size="15" style="stroke-width:0.2px">10</text>
<text transform="translate(390.30,97.50) rotate(-90)" font-size="10.5" style="stroke-width:0.3px">26</text>
<text transform="translate(396.50,85.50) rotate(-90)" font-size="17.5" style="stroke-width:0.2px">)</text>
<rect x="604.8" y="6.8" width="148.20" height="48.60" rx="2" fill="#fff" fill-opacity="0.8" stroke="#d6d6d6" stroke-width="0.8"/>
<line x1="609.90" y1="20.75" x2="637.00" y2="20.75" stroke="#1f77b4" stroke-width="1.6"/>
<text x="647.65" y="21.75" font-size="12.8" font-style="italic" style="stroke-width:0.25px">C</text>
<text x="658.15" y="16.60" font-size="9.5" style="stroke-width:0.3px">95%</text>
<text x="657.75" y="25.70" font-size="8.5" style="stroke-width:0.3px">22</text>
<text x="675.30" y="21.80" font-size="13.2" style="stroke-width:0.1px">:</text>
<text x="684.75" y="21.80" font-size="13.2" style="stroke-width:0.1px">unrestricted</text>
<line x1="609.90" y1="42.9" x2="637.00" y2="42.9" stroke="#ff7f0e" stroke-width="1.6"/>
<text x="647.65" y="43.75" font-size="12.8" font-style="italic" style="stroke-width:0.25px">C</text>
<text x="658.15" y="38.60" font-size="9.5" style="stroke-width:0.3px">95%</text>
<text x="657.75" y="47.70" font-size="8.5" style="stroke-width:0.3px">22</text>
<text x="675.30" y="43.80" font-size="13.2" style="stroke-width:0.1px">:</text>
<text x="684.75" y="43.80" font-size="13.2" style="stroke-width:0.1px">restricted</text>
</svg>
</body></html>
